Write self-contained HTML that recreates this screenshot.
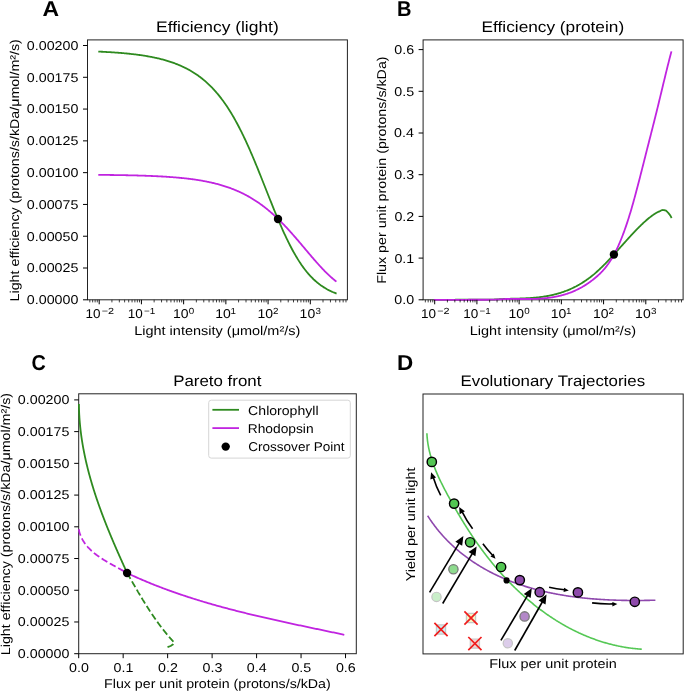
<!DOCTYPE html>
<html><head><meta charset="utf-8"><title>Figure</title>
<style>html,body{margin:0;padding:0;background:#fff;width:685px;height:693px;overflow:hidden}
body{position:relative;font-family:"Liberation Sans", sans-serif}</style></head>
<body>
<svg width="685" height="693" viewBox="0 0 685 693" style="position:absolute;left:0;top:0;will-change:transform">
<rect width="685" height="693" fill="#fff"/>
<g font-family='"Liberation Sans", sans-serif' fill="#000" text-rendering="geometricPrecision">
<rect x="87.5" y="39.9" width="259.9" height="259.9" fill="none" stroke="#222" stroke-width="1" stroke-linejoin="miter"/>
<g clip-path="url(#clipA)">
<path d="M99.2,51.62 L99.99,51.66 L100.78,51.69 L101.57,51.73 L102.36,51.77 L103.16,51.81 L103.95,51.85 L104.74,51.89 L105.53,51.94 L106.32,51.98 L107.11,52.03 L107.9,52.07 L108.69,52.12 L109.48,52.16 L110.27,52.21 L111.07,52.26 L111.86,52.31 L112.65,52.37 L113.44,52.42 L114.23,52.47 L115.02,52.53 L115.81,52.58 L116.6,52.64 L117.39,52.7 L118.18,52.76 L118.98,52.82 L119.77,52.89 L120.56,52.95 L121.35,53.02 L122.14,53.08 L122.93,53.15 L123.72,53.22 L124.51,53.29 L125.3,53.37 L126.1,53.44 L126.89,53.52 L127.68,53.6 L128.47,53.68 L129.26,53.76 L130.05,53.84 L130.84,53.93 L131.63,54.02 L132.42,54.11 L133.21,54.2 L134.01,54.29 L134.8,54.39 L135.59,54.48 L136.38,54.58 L137.17,54.69 L137.96,54.79 L138.75,54.9 L139.54,55.01 L140.33,55.12 L141.12,55.23 L141.92,55.35 L142.71,55.47 L143.5,55.59 L144.29,55.71 L145.08,55.84 L145.87,55.97 L146.66,56.1 L147.45,56.24 L148.24,56.38 L149.04,56.52 L149.83,56.66 L150.62,56.81 L151.41,56.96 L152.2,57.12 L152.99,57.28 L153.78,57.44 L154.57,57.6 L155.36,57.77 L156.15,57.95 L156.95,58.12 L157.74,58.3 L158.53,58.49 L159.32,58.68 L160.11,58.87 L160.9,59.07 L161.69,59.27 L162.48,59.48 L163.27,59.69 L164.06,59.91 L164.86,60.13 L165.65,60.35 L166.44,60.58 L167.23,60.82 L168.02,61.06 L168.81,61.31 L169.6,61.56 L170.39,61.82 L171.18,62.08 L171.98,62.35 L172.77,62.62 L173.56,62.91 L174.35,63.19 L175.14,63.49 L175.93,63.79 L176.72,64.1 L177.51,64.41 L178.3,64.73 L179.09,65.06 L179.89,65.4 L180.68,65.74 L181.47,66.09 L182.26,66.45 L183.05,66.82 L183.84,67.2 L184.63,67.58 L185.42,67.97 L186.21,68.37 L187,68.78 L187.8,69.2 L188.59,69.63 L189.38,70.07 L190.17,70.52 L190.96,70.98 L191.75,71.45 L192.54,71.92 L193.33,72.41 L194.12,72.91 L194.92,73.43 L195.71,73.95 L196.5,74.48 L197.29,75.03 L198.08,75.59 L198.87,76.16 L199.66,76.74 L200.45,77.33 L201.24,77.94 L202.03,78.56 L202.83,79.2 L203.62,79.85 L204.41,80.51 L205.2,81.19 L205.99,81.88 L206.78,82.58 L207.57,83.31 L208.36,84.04 L209.15,84.8 L209.94,85.56 L210.74,86.35 L211.53,87.15 L212.32,87.97 L213.11,88.8 L213.9,89.66 L214.69,90.53 L215.48,91.41 L216.27,92.32 L217.06,93.24 L217.86,94.19 L218.65,95.15 L219.44,96.13 L220.23,97.13 L221.02,98.15 L221.81,99.19 L222.6,100.25 L223.39,101.33 L224.18,102.44 L224.97,103.56 L225.77,104.7 L226.56,105.87 L227.35,107.05 L228.14,108.26 L228.93,109.49 L229.72,110.74 L230.51,112.02 L231.3,113.31 L232.09,114.63 L232.88,115.97 L233.68,117.33 L234.47,118.72 L235.26,120.12 L236.05,121.56 L236.84,123.01 L237.63,124.48 L238.42,125.98 L239.21,127.5 L240,129.04 L240.79,130.61 L241.59,132.19 L242.38,133.8 L243.17,135.43 L243.96,137.08 L244.75,138.75 L245.54,140.44 L246.33,142.15 L247.12,143.88 L247.91,145.63 L248.71,147.4 L249.5,149.19 L250.29,150.99 L251.08,152.81 L251.87,154.65 L252.66,156.51 L253.45,158.38 L254.24,160.26 L255.03,162.16 L255.82,164.07 L256.62,166 L257.41,167.93 L258.2,169.88 L258.99,171.84 L259.78,173.8 L260.57,175.78 L261.36,177.76 L262.15,179.74 L262.94,181.73 L263.73,183.73 L264.53,185.73 L265.32,187.73 L266.11,189.73 L266.9,191.73 L267.69,193.73 L268.48,195.72 L269.27,197.72 L270.06,199.71 L270.85,201.69 L271.65,203.67 L272.44,205.63 L273.23,207.59 L274.02,209.54 L274.81,211.48 L275.6,213.41 L276.39,215.32 L277.18,217.22 L277.97,219.1 L278.76,220.97 L279.56,222.82 L280.35,224.65 L281.14,226.47 L281.93,228.26 L282.72,230.03 L283.51,231.79 L284.3,233.52 L285.09,235.23 L285.88,236.91 L286.67,238.57 L287.47,240.21 L288.26,241.82 L289.05,243.41 L289.84,244.97 L290.63,246.51 L291.42,248.02 L292.21,249.5 L293,250.96 L293.79,252.38 L294.59,253.78 L295.38,255.16 L296.17,256.5 L296.96,257.82 L297.75,259.11 L298.54,260.37 L299.33,261.61 L300.12,262.81 L300.91,263.99 L301.7,265.14 L302.5,266.27 L303.29,267.36 L304.08,268.43 L304.87,269.47 L305.66,270.49 L306.45,271.48 L307.24,272.45 L308.03,273.38 L308.82,274.3 L309.61,275.19 L310.41,276.05 L311.2,276.89 L311.99,277.7 L312.78,278.5 L313.57,279.27 L314.36,280.01 L315.15,280.74 L315.94,281.44 L316.73,282.12 L317.53,282.78 L318.32,283.42 L319.11,284.04 L319.9,284.64 L320.69,285.23 L321.48,285.79 L322.27,286.33 L323.06,286.86 L323.85,287.37 L324.64,287.86 L325.44,288.34 L326.23,288.8 L327.02,289.25 L327.81,289.67 L328.6,290.09 L329.39,290.49 L330.18,290.88 L330.97,291.25 L331.76,291.61 L332.55,291.96 L333.35,292.29 L334.14,292.61 L334.93,292.92 L335.72,293.22" fill="none" stroke="#2e8a1f" stroke-width="1.8" stroke-linejoin="round" stroke-linecap="square"/>
<path d="M99.2,174.86 L99.99,174.87 L100.78,174.88 L101.57,174.88 L102.36,174.89 L103.16,174.9 L103.95,174.91 L104.74,174.92 L105.53,174.92 L106.32,174.93 L107.11,174.94 L107.9,174.95 L108.69,174.96 L109.48,174.97 L110.27,174.98 L111.07,174.99 L111.86,175 L112.65,175.01 L113.44,175.02 L114.23,175.03 L115.02,175.04 L115.81,175.06 L116.6,175.07 L117.39,175.08 L118.18,175.09 L118.98,175.1 L119.77,175.12 L120.56,175.13 L121.35,175.14 L122.14,175.16 L122.93,175.17 L123.72,175.19 L124.51,175.2 L125.3,175.22 L126.1,175.23 L126.89,175.25 L127.68,175.26 L128.47,175.28 L129.26,175.3 L130.05,175.32 L130.84,175.33 L131.63,175.35 L132.42,175.37 L133.21,175.39 L134.01,175.41 L134.8,175.43 L135.59,175.45 L136.38,175.47 L137.17,175.49 L137.96,175.51 L138.75,175.54 L139.54,175.56 L140.33,175.58 L141.12,175.61 L141.92,175.63 L142.71,175.66 L143.5,175.68 L144.29,175.71 L145.08,175.74 L145.87,175.77 L146.66,175.79 L147.45,175.82 L148.24,175.85 L149.04,175.88 L149.83,175.91 L150.62,175.95 L151.41,175.98 L152.2,176.01 L152.99,176.05 L153.78,176.08 L154.57,176.12 L155.36,176.15 L156.15,176.19 L156.95,176.23 L157.74,176.27 L158.53,176.31 L159.32,176.35 L160.11,176.39 L160.9,176.44 L161.69,176.48 L162.48,176.52 L163.27,176.57 L164.06,176.62 L164.86,176.67 L165.65,176.72 L166.44,176.77 L167.23,176.82 L168.02,176.87 L168.81,176.92 L169.6,176.98 L170.39,177.04 L171.18,177.09 L171.98,177.15 L172.77,177.21 L173.56,177.28 L174.35,177.34 L175.14,177.4 L175.93,177.47 L176.72,177.54 L177.51,177.61 L178.3,177.68 L179.09,177.75 L179.89,177.82 L180.68,177.9 L181.47,177.98 L182.26,178.06 L183.05,178.14 L183.84,178.22 L184.63,178.31 L185.42,178.39 L186.21,178.48 L187,178.57 L187.8,178.66 L188.59,178.76 L189.38,178.86 L190.17,178.95 L190.96,179.06 L191.75,179.16 L192.54,179.26 L193.33,179.37 L194.12,179.48 L194.92,179.6 L195.71,179.71 L196.5,179.83 L197.29,179.95 L198.08,180.07 L198.87,180.2 L199.66,180.33 L200.45,180.46 L201.24,180.59 L202.03,180.73 L202.83,180.87 L203.62,181.02 L204.41,181.16 L205.2,181.31 L205.99,181.46 L206.78,181.62 L207.57,181.78 L208.36,181.94 L209.15,182.11 L209.94,182.28 L210.74,182.45 L211.53,182.63 L212.32,182.81 L213.11,183 L213.9,183.19 L214.69,183.38 L215.48,183.58 L216.27,183.78 L217.06,183.98 L217.86,184.19 L218.65,184.41 L219.44,184.63 L220.23,184.85 L221.02,185.08 L221.81,185.31 L222.6,185.54 L223.39,185.79 L224.18,186.03 L224.97,186.28 L225.77,186.54 L226.56,186.8 L227.35,187.07 L228.14,187.34 L228.93,187.62 L229.72,187.9 L230.51,188.19 L231.3,188.49 L232.09,188.79 L232.88,189.1 L233.68,189.41 L234.47,189.73 L235.26,190.05 L236.05,190.38 L236.84,190.72 L237.63,191.06 L238.42,191.41 L239.21,191.77 L240,192.13 L240.79,192.5 L241.59,192.88 L242.38,193.26 L243.17,193.65 L243.96,194.05 L244.75,194.46 L245.54,194.87 L246.33,195.29 L247.12,195.71 L247.91,196.15 L248.71,196.59 L249.5,197.04 L250.29,197.5 L251.08,197.96 L251.87,198.44 L252.66,198.92 L253.45,199.41 L254.24,199.91 L255.03,200.41 L255.82,200.93 L256.62,201.45 L257.41,201.98 L258.2,202.52 L258.99,203.07 L259.78,203.62 L260.57,204.19 L261.36,204.76 L262.15,205.34 L262.94,205.93 L263.73,206.53 L264.53,207.14 L265.32,207.76 L266.11,208.39 L266.9,209.02 L267.69,209.67 L268.48,210.32 L269.27,210.98 L270.06,211.65 L270.85,212.33 L271.65,213.02 L272.44,213.72 L273.23,214.43 L274.02,215.14 L274.81,215.87 L275.6,216.6 L276.39,217.34 L277.18,218.09 L277.97,218.85 L278.76,219.62 L279.56,220.39 L280.35,221.18 L281.14,221.97 L281.93,222.77 L282.72,223.58 L283.51,224.39 L284.3,225.22 L285.09,226.05 L285.88,226.88 L286.67,227.73 L287.47,228.58 L288.26,229.44 L289.05,230.31 L289.84,231.18 L290.63,232.06 L291.42,232.95 L292.21,233.84 L293,234.73 L293.79,235.63 L294.59,236.54 L295.38,237.45 L296.17,238.37 L296.96,239.29 L297.75,240.21 L298.54,241.13 L299.33,242.06 L300.12,243 L300.91,243.93 L301.7,244.87 L302.5,245.81 L303.29,246.75 L304.08,247.69 L304.87,248.63 L305.66,249.57 L306.45,250.51 L307.24,251.45 L308.03,252.39 L308.82,253.32 L309.61,254.26 L310.41,255.19 L311.2,256.12 L311.99,257.04 L312.78,257.96 L313.57,258.88 L314.36,259.79 L315.15,260.7 L315.94,261.6 L316.73,262.5 L317.53,263.38 L318.32,264.27 L319.11,265.14 L319.9,266.01 L320.69,266.86 L321.48,267.71 L322.27,268.55 L323.06,269.38 L323.85,270.2 L324.64,271.01 L325.44,271.81 L326.23,272.6 L327.02,273.37 L327.81,274.14 L328.6,274.89 L329.39,275.63 L330.18,276.36 L330.97,277.08 L331.76,277.78 L332.55,278.47 L333.35,279.15 L334.14,279.81 L334.93,280.46 L335.72,281.1" fill="none" stroke="#c024e0" stroke-width="1.8" stroke-linejoin="round" stroke-linecap="square"/>
</g>
<circle cx="278.0" cy="219.0" r="4.2" fill="#000"/>
<line x1="83" y1="299.8" x2="87.5" y2="299.8" stroke="#000" stroke-width="1"/>
<text x="26.83" y="304.2" font-size="12.8" font-weight="normal" textLength="51.59" lengthAdjust="spacingAndGlyphs" fill="#000" >0.00000</text>
<line x1="83" y1="268.01" x2="87.5" y2="268.01" stroke="#000" stroke-width="1"/>
<text x="26.83" y="272.41" font-size="12.8" font-weight="normal" textLength="51.59" lengthAdjust="spacingAndGlyphs" fill="#000" >0.00025</text>
<line x1="83" y1="236.23" x2="87.5" y2="236.23" stroke="#000" stroke-width="1"/>
<text x="26.83" y="240.63" font-size="12.8" font-weight="normal" textLength="51.59" lengthAdjust="spacingAndGlyphs" fill="#000" >0.00050</text>
<line x1="83" y1="204.44" x2="87.5" y2="204.44" stroke="#000" stroke-width="1"/>
<text x="26.83" y="208.84" font-size="12.8" font-weight="normal" textLength="51.59" lengthAdjust="spacingAndGlyphs" fill="#000" >0.00075</text>
<line x1="83" y1="172.65" x2="87.5" y2="172.65" stroke="#000" stroke-width="1"/>
<text x="26.83" y="177.05" font-size="12.8" font-weight="normal" textLength="51.59" lengthAdjust="spacingAndGlyphs" fill="#000" >0.00100</text>
<line x1="83" y1="140.86" x2="87.5" y2="140.86" stroke="#000" stroke-width="1"/>
<text x="26.83" y="145.26" font-size="12.8" font-weight="normal" textLength="51.59" lengthAdjust="spacingAndGlyphs" fill="#000" >0.00125</text>
<line x1="83" y1="109.07" x2="87.5" y2="109.07" stroke="#000" stroke-width="1"/>
<text x="26.83" y="113.47" font-size="12.8" font-weight="normal" textLength="51.59" lengthAdjust="spacingAndGlyphs" fill="#000" >0.00150</text>
<line x1="83" y1="77.29" x2="87.5" y2="77.29" stroke="#000" stroke-width="1"/>
<text x="26.83" y="81.69" font-size="12.8" font-weight="normal" textLength="51.59" lengthAdjust="spacingAndGlyphs" fill="#000" >0.00175</text>
<line x1="83" y1="45.5" x2="87.5" y2="45.5" stroke="#000" stroke-width="1"/>
<text x="26.83" y="49.9" font-size="12.8" font-weight="normal" textLength="51.59" lengthAdjust="spacingAndGlyphs" fill="#000" >0.00200</text>
<line x1="99.2" y1="299.8" x2="99.2" y2="304.3" stroke="#000" stroke-width="1"/>
<line x1="141.42" y1="299.8" x2="141.42" y2="304.3" stroke="#000" stroke-width="1"/>
<line x1="183.64" y1="299.8" x2="183.64" y2="304.3" stroke="#000" stroke-width="1"/>
<line x1="225.86" y1="299.8" x2="225.86" y2="304.3" stroke="#000" stroke-width="1"/>
<line x1="268.08" y1="299.8" x2="268.08" y2="304.3" stroke="#000" stroke-width="1"/>
<line x1="310.3" y1="299.8" x2="310.3" y2="304.3" stroke="#000" stroke-width="1"/>
<line x1="89.83" y1="299.8" x2="89.83" y2="302.4" stroke="#000" stroke-width="0.75"/>
<line x1="92.66" y1="299.8" x2="92.66" y2="302.4" stroke="#000" stroke-width="0.75"/>
<line x1="95.11" y1="299.8" x2="95.11" y2="302.4" stroke="#000" stroke-width="0.75"/>
<line x1="97.27" y1="299.8" x2="97.27" y2="302.4" stroke="#000" stroke-width="0.75"/>
<line x1="111.91" y1="299.8" x2="111.91" y2="302.4" stroke="#000" stroke-width="0.75"/>
<line x1="119.34" y1="299.8" x2="119.34" y2="302.4" stroke="#000" stroke-width="0.75"/>
<line x1="124.62" y1="299.8" x2="124.62" y2="302.4" stroke="#000" stroke-width="0.75"/>
<line x1="128.71" y1="299.8" x2="128.71" y2="302.4" stroke="#000" stroke-width="0.75"/>
<line x1="132.05" y1="299.8" x2="132.05" y2="302.4" stroke="#000" stroke-width="0.75"/>
<line x1="134.88" y1="299.8" x2="134.88" y2="302.4" stroke="#000" stroke-width="0.75"/>
<line x1="137.33" y1="299.8" x2="137.33" y2="302.4" stroke="#000" stroke-width="0.75"/>
<line x1="139.49" y1="299.8" x2="139.49" y2="302.4" stroke="#000" stroke-width="0.75"/>
<line x1="154.13" y1="299.8" x2="154.13" y2="302.4" stroke="#000" stroke-width="0.75"/>
<line x1="161.56" y1="299.8" x2="161.56" y2="302.4" stroke="#000" stroke-width="0.75"/>
<line x1="166.84" y1="299.8" x2="166.84" y2="302.4" stroke="#000" stroke-width="0.75"/>
<line x1="170.93" y1="299.8" x2="170.93" y2="302.4" stroke="#000" stroke-width="0.75"/>
<line x1="174.27" y1="299.8" x2="174.27" y2="302.4" stroke="#000" stroke-width="0.75"/>
<line x1="177.1" y1="299.8" x2="177.1" y2="302.4" stroke="#000" stroke-width="0.75"/>
<line x1="179.55" y1="299.8" x2="179.55" y2="302.4" stroke="#000" stroke-width="0.75"/>
<line x1="181.71" y1="299.8" x2="181.71" y2="302.4" stroke="#000" stroke-width="0.75"/>
<line x1="196.35" y1="299.8" x2="196.35" y2="302.4" stroke="#000" stroke-width="0.75"/>
<line x1="203.78" y1="299.8" x2="203.78" y2="302.4" stroke="#000" stroke-width="0.75"/>
<line x1="209.06" y1="299.8" x2="209.06" y2="302.4" stroke="#000" stroke-width="0.75"/>
<line x1="213.15" y1="299.8" x2="213.15" y2="302.4" stroke="#000" stroke-width="0.75"/>
<line x1="216.49" y1="299.8" x2="216.49" y2="302.4" stroke="#000" stroke-width="0.75"/>
<line x1="219.32" y1="299.8" x2="219.32" y2="302.4" stroke="#000" stroke-width="0.75"/>
<line x1="221.77" y1="299.8" x2="221.77" y2="302.4" stroke="#000" stroke-width="0.75"/>
<line x1="223.93" y1="299.8" x2="223.93" y2="302.4" stroke="#000" stroke-width="0.75"/>
<line x1="238.57" y1="299.8" x2="238.57" y2="302.4" stroke="#000" stroke-width="0.75"/>
<line x1="246" y1="299.8" x2="246" y2="302.4" stroke="#000" stroke-width="0.75"/>
<line x1="251.28" y1="299.8" x2="251.28" y2="302.4" stroke="#000" stroke-width="0.75"/>
<line x1="255.37" y1="299.8" x2="255.37" y2="302.4" stroke="#000" stroke-width="0.75"/>
<line x1="258.71" y1="299.8" x2="258.71" y2="302.4" stroke="#000" stroke-width="0.75"/>
<line x1="261.54" y1="299.8" x2="261.54" y2="302.4" stroke="#000" stroke-width="0.75"/>
<line x1="263.99" y1="299.8" x2="263.99" y2="302.4" stroke="#000" stroke-width="0.75"/>
<line x1="266.15" y1="299.8" x2="266.15" y2="302.4" stroke="#000" stroke-width="0.75"/>
<line x1="280.79" y1="299.8" x2="280.79" y2="302.4" stroke="#000" stroke-width="0.75"/>
<line x1="288.22" y1="299.8" x2="288.22" y2="302.4" stroke="#000" stroke-width="0.75"/>
<line x1="293.5" y1="299.8" x2="293.5" y2="302.4" stroke="#000" stroke-width="0.75"/>
<line x1="297.59" y1="299.8" x2="297.59" y2="302.4" stroke="#000" stroke-width="0.75"/>
<line x1="300.93" y1="299.8" x2="300.93" y2="302.4" stroke="#000" stroke-width="0.75"/>
<line x1="303.76" y1="299.8" x2="303.76" y2="302.4" stroke="#000" stroke-width="0.75"/>
<line x1="306.21" y1="299.8" x2="306.21" y2="302.4" stroke="#000" stroke-width="0.75"/>
<line x1="308.37" y1="299.8" x2="308.37" y2="302.4" stroke="#000" stroke-width="0.75"/>
<line x1="323.01" y1="299.8" x2="323.01" y2="302.4" stroke="#000" stroke-width="0.75"/>
<line x1="330.44" y1="299.8" x2="330.44" y2="302.4" stroke="#000" stroke-width="0.75"/>
<line x1="335.72" y1="299.8" x2="335.72" y2="302.4" stroke="#000" stroke-width="0.75"/>
<line x1="339.81" y1="299.8" x2="339.81" y2="302.4" stroke="#000" stroke-width="0.75"/>
<line x1="343.15" y1="299.8" x2="343.15" y2="302.4" stroke="#000" stroke-width="0.75"/>
<line x1="345.98" y1="299.8" x2="345.98" y2="302.4" stroke="#000" stroke-width="0.75"/>
<text x="85.5" y="317.9" font-size="12.8" font-weight="normal" textLength="15.02" lengthAdjust="spacingAndGlyphs" fill="#000" >10</text>
<text x="101.71" y="313.7" font-size="8.9" font-weight="normal" textLength="12.33" lengthAdjust="spacingAndGlyphs" fill="#000" >−2</text>
<text x="127.72" y="317.9" font-size="12.8" font-weight="normal" textLength="15.02" lengthAdjust="spacingAndGlyphs" fill="#000" >10</text>
<text x="143.98" y="313.7" font-size="8.9" font-weight="normal" textLength="11.24" lengthAdjust="spacingAndGlyphs" fill="#000" >−1</text>
<text x="172.96" y="317.9" font-size="12.8" font-weight="normal" textLength="15.57" lengthAdjust="spacingAndGlyphs" fill="#000" >10</text>
<text x="188.81" y="313.7" font-size="8.9" font-weight="normal" textLength="5.44" lengthAdjust="spacingAndGlyphs" fill="#000" >0</text>
<text x="215.18" y="317.9" font-size="12.8" font-weight="normal" textLength="15.57" lengthAdjust="spacingAndGlyphs" fill="#000" >10</text>
<text x="230.59" y="313.7" font-size="8.9" font-weight="normal" textLength="5.45" lengthAdjust="spacingAndGlyphs" fill="#000" >1</text>
<text x="257.4" y="317.9" font-size="12.8" font-weight="normal" textLength="15.57" lengthAdjust="spacingAndGlyphs" fill="#000" >10</text>
<text x="273.14" y="313.7" font-size="8.9" font-weight="normal" textLength="5.44" lengthAdjust="spacingAndGlyphs" fill="#000" >2</text>
<text x="299.62" y="317.9" font-size="12.8" font-weight="normal" textLength="15.57" lengthAdjust="spacingAndGlyphs" fill="#000" >10</text>
<text x="315.47" y="313.7" font-size="8.9" font-weight="normal" textLength="5.45" lengthAdjust="spacingAndGlyphs" fill="#000" >3</text>
<text x="42.47" y="15.9" font-size="21.5" font-weight="bold" textLength="16.6" lengthAdjust="spacingAndGlyphs" fill="#000" >A</text>
<text x="156.13" y="31.9" font-size="15.3" font-weight="normal" textLength="122.6" lengthAdjust="spacingAndGlyphs" fill="#000" >Efficiency (light)</text>
<text x="134.17" y="335.1" font-size="12.8" font-weight="normal" textLength="166.22" lengthAdjust="spacingAndGlyphs" fill="#000" >Light intensity (μmol/m²/s)</text>
<text transform="rotate(-90)" x="-301.41" y="18.7" font-size="12.8" textLength="262.28" lengthAdjust="spacingAndGlyphs">Light efficiency (protons/s/kDa/μmol/m²/s)</text>
<rect x="423.1" y="39.9" width="260" height="259.9" fill="none" stroke="#222" stroke-width="1" stroke-linejoin="miter"/>
<path d="M434.7,299.79 L435.29,299.79 L435.89,299.79 L436.48,299.79 L437.07,299.79 L437.66,299.79 L438.26,299.79 L438.85,299.79 L439.44,299.79 L440.04,299.79 L440.63,299.79 L441.22,299.79 L441.81,299.79 L442.41,299.79 L443,299.79 L443.59,299.79 L444.18,299.79 L444.78,299.79 L445.37,299.79 L445.96,299.78 L446.56,299.78 L447.15,299.78 L447.74,299.78 L448.33,299.78 L448.93,299.78 L449.52,299.78 L450.11,299.78 L450.71,299.78 L451.3,299.78 L451.89,299.78 L452.48,299.78 L453.08,299.78 L453.67,299.78 L454.26,299.78 L454.85,299.78 L455.45,299.77 L456.04,299.77 L456.63,299.77 L457.23,299.77 L457.82,299.77 L458.41,299.77 L459,299.77 L459.6,299.77 L460.19,299.77 L460.78,299.77 L461.38,299.77 L461.97,299.76 L462.56,299.76 L463.15,299.76 L463.75,299.76 L464.34,299.76 L464.93,299.76 L465.52,299.76 L466.12,299.76 L466.71,299.75 L467.3,299.75 L467.9,299.75 L468.49,299.75 L469.08,299.75 L469.67,299.75 L470.27,299.74 L470.86,299.74 L471.45,299.74 L472.05,299.74 L472.64,299.74 L473.23,299.73 L473.82,299.73 L474.42,299.73 L475.01,299.73 L475.6,299.73 L476.19,299.72 L476.79,299.72 L477.38,299.72 L477.97,299.72 L478.57,299.71 L479.16,299.71 L479.75,299.71 L480.34,299.7 L480.94,299.7 L481.53,299.7 L482.12,299.69 L482.72,299.69 L483.31,299.69 L483.9,299.68 L484.49,299.68 L485.09,299.68 L485.68,299.67 L486.27,299.67 L486.86,299.66 L487.46,299.66 L488.05,299.65 L488.64,299.65 L489.24,299.64 L489.83,299.64 L490.42,299.63 L491.01,299.62 L491.61,299.61 L492.2,299.59 L492.79,299.57 L493.39,299.55 L493.98,299.53 L494.57,299.5 L495.16,299.47 L495.76,299.45 L496.35,299.42 L496.94,299.38 L497.53,299.35 L498.13,299.32 L498.72,299.28 L499.31,299.25 L499.91,299.21 L500.5,299.18 L501.09,299.14 L501.68,299.1 L502.28,299.07 L502.87,299.03 L503.46,298.99 L504.06,298.96 L504.65,298.92 L505.24,298.89 L505.83,298.87 L506.43,298.86 L507.02,298.85 L507.61,298.83 L508.2,298.82 L508.8,298.8 L509.39,298.79 L509.98,298.78 L510.58,298.76 L511.17,298.75 L511.76,298.74 L512.35,298.72 L512.95,298.71 L513.54,298.69 L514.13,298.68 L514.73,298.67 L515.32,298.65 L515.91,298.64 L516.5,298.62 L517.1,298.6 L517.69,298.59 L518.28,298.57 L518.87,298.55 L519.47,298.53 L520.06,298.51 L520.65,298.49 L521.25,298.47 L521.84,298.45 L522.43,298.43 L523.02,298.41 L523.62,298.38 L524.21,298.36 L524.8,298.33 L525.4,298.3 L525.99,298.27 L526.58,298.24 L527.17,298.21 L527.77,298.18 L528.36,298.14 L528.95,298.11 L529.54,298.07 L530.14,298.03 L530.73,297.99 L531.32,297.95 L531.92,297.9 L532.51,297.86 L533.1,297.81 L533.69,297.76 L534.29,297.71 L534.88,297.66 L535.47,297.6 L536.07,297.54 L536.66,297.48 L537.25,297.42 L537.84,297.36 L538.44,297.29 L539.03,297.23 L539.62,297.15 L540.21,297.08 L540.81,297.01 L541.4,296.93 L541.99,296.85 L542.59,296.77 L543.18,296.68 L543.77,296.59 L544.36,296.5 L544.96,296.41 L545.55,296.31 L546.14,296.21 L546.74,296.11 L547.33,296 L547.92,295.89 L548.51,295.78 L549.11,295.67 L549.7,295.55 L550.29,295.43 L550.88,295.31 L551.48,295.18 L552.07,295.05 L552.66,294.91 L553.26,294.77 L553.85,294.63 L554.44,294.49 L555.03,294.34 L555.63,294.19 L556.22,294.03 L556.81,293.87 L557.41,293.71 L558,293.54 L558.59,293.37 L559.18,293.19 L559.78,293.02 L560.37,292.83 L560.96,292.65 L561.55,292.45 L562.15,292.26 L562.74,292.06 L563.33,291.85 L563.93,291.65 L564.52,291.43 L565.11,291.21 L565.7,290.99 L566.3,290.77 L566.89,290.54 L567.48,290.3 L568.08,290.06 L568.67,289.81 L569.26,289.56 L569.85,289.31 L570.45,289.05 L571.04,288.79 L571.63,288.52 L572.22,288.24 L572.82,287.96 L573.41,287.68 L574,287.39 L574.6,287.09 L575.19,286.79 L575.78,286.49 L576.37,286.17 L576.97,285.86 L577.56,285.54 L578.15,285.21 L578.75,284.87 L579.34,284.54 L579.93,284.19 L580.52,283.84 L581.12,283.49 L581.71,283.12 L582.3,282.76 L582.89,282.38 L583.49,282 L584.08,281.62 L584.67,281.23 L585.27,280.83 L585.86,280.42 L586.45,280.01 L587.04,279.6 L587.64,279.18 L588.23,278.75 L588.82,278.31 L589.42,277.87 L590.01,277.42 L590.6,276.97 L591.19,276.5 L591.79,276.04 L592.38,275.56 L592.97,275.08 L593.56,274.59 L594.16,274.1 L594.75,273.59 L595.34,273.08 L595.94,272.57 L596.53,272.05 L597.12,271.52 L597.71,270.98 L598.31,270.44 L598.9,269.89 L599.49,269.34 L600.09,268.78 L600.68,268.21 L601.27,267.64 L601.86,267.07 L602.46,266.49 L603.05,265.9 L603.64,265.31 L604.23,264.71 L604.83,264.11 L605.42,263.51 L606.01,262.9 L606.61,262.29 L607.2,261.67 L607.79,261.05 L608.38,260.43 L608.98,259.8 L609.57,259.17 L610.16,258.53 L610.76,257.9 L611.35,257.26 L611.94,256.62 L612.53,255.97 L613.13,255.32 L613.72,254.67 L614.31,254.02 L614.9,253.37 L615.5,252.72 L616.09,252.06 L616.68,251.4 L617.28,250.74 L617.87,250.08 L618.46,249.42 L619.05,248.76 L619.65,248.1 L620.24,247.44 L620.83,246.77 L621.43,246.11 L622.02,245.45 L622.61,244.79 L623.2,244.12 L623.8,243.46 L624.39,242.8 L624.98,242.14 L625.57,241.48 L626.17,240.82 L626.76,240.17 L627.35,239.51 L627.95,238.86 L628.54,238.21 L629.13,237.56 L629.72,236.91 L630.32,236.26 L630.91,235.62 L631.5,234.98 L632.1,234.34 L632.69,233.7 L633.28,233.07 L633.87,232.44 L634.47,231.82 L635.06,231.2 L635.65,230.58 L636.24,229.96 L636.84,229.35 L637.43,228.74 L638.02,228.14 L638.62,227.54 L639.21,226.95 L639.8,226.36 L640.39,225.78 L640.99,225.2 L641.58,224.63 L642.17,224.06 L642.77,223.5 L643.36,222.95 L643.95,222.4 L644.54,221.86 L645.14,221.33 L645.73,220.8 L646.32,220.28 L646.92,219.77 L647.51,219.27 L648.1,218.77 L648.69,218.28 L649.29,217.81 L649.88,217.34 L650.47,216.88 L651.06,216.43 L651.66,215.99 L652.25,215.56 L652.84,215.14 L653.44,214.73 L654.03,214.33 L654.62,213.94 L655.21,213.57 L655.81,213.2 L656.4,212.85 L656.99,212.51 L657.59,212.18 L658.18,211.86 L658.77,211.56 L659.36,211.51 L659.96,211.17 L660.55,210.82 L661.14,210.49 L661.73,210.22 L662.33,210.05 L662.92,210 L663.51,210.04 L664.11,210.13 L664.7,210.25 L665.29,210.41 L665.88,210.62 L666.48,211.02 L667.07,211.6 L667.66,212.26 L668.26,212.94 L668.85,213.6 L669.44,214.33 L670.03,215.15 L670.63,216.1 L671.22,217.22" fill="none" stroke="#2e8a1f" stroke-width="1.8" stroke-linejoin="round" stroke-linecap="square"/>
<path d="M434.7,299.8 L435.29,299.8 L435.89,299.8 L436.48,299.8 L437.07,299.8 L437.66,299.8 L438.26,299.8 L438.85,299.79 L439.44,299.79 L440.04,299.79 L440.63,299.79 L441.22,299.79 L441.81,299.79 L442.41,299.79 L443,299.79 L443.59,299.79 L444.18,299.79 L444.78,299.79 L445.37,299.79 L445.96,299.79 L446.56,299.79 L447.15,299.79 L447.74,299.79 L448.33,299.79 L448.93,299.79 L449.52,299.79 L450.11,299.79 L450.71,299.79 L451.3,299.79 L451.89,299.79 L452.48,299.79 L453.08,299.79 L453.67,299.79 L454.26,299.79 L454.85,299.79 L455.45,299.79 L456.04,299.79 L456.63,299.79 L457.23,299.79 L457.82,299.79 L458.41,299.79 L459,299.78 L459.6,299.78 L460.19,299.78 L460.78,299.78 L461.38,299.78 L461.97,299.78 L462.56,299.78 L463.15,299.78 L463.75,299.78 L464.34,299.78 L464.93,299.78 L465.52,299.78 L466.12,299.78 L466.71,299.78 L467.3,299.78 L467.9,299.78 L468.49,299.77 L469.08,299.77 L469.67,299.77 L470.27,299.77 L470.86,299.77 L471.45,299.77 L472.05,299.77 L472.64,299.77 L473.23,299.77 L473.82,299.77 L474.42,299.76 L475.01,299.76 L475.6,299.76 L476.19,299.76 L476.79,299.76 L477.38,299.76 L477.97,299.76 L478.57,299.76 L479.16,299.75 L479.75,299.75 L480.34,299.75 L480.94,299.75 L481.53,299.75 L482.12,299.75 L482.72,299.74 L483.31,299.74 L483.9,299.74 L484.49,299.74 L485.09,299.74 L485.68,299.73 L486.27,299.73 L486.86,299.73 L487.46,299.73 L488.05,299.73 L488.64,299.72 L489.24,299.72 L489.83,299.72 L490.42,299.72 L491.01,299.72 L491.61,299.71 L492.2,299.7 L492.79,299.69 L493.39,299.67 L493.98,299.65 L494.57,299.63 L495.16,299.6 L495.76,299.57 L496.35,299.54 L496.94,299.51 L497.53,299.48 L498.13,299.45 L498.72,299.41 L499.31,299.38 L499.91,299.34 L500.5,299.3 L501.09,299.27 L501.68,299.23 L502.28,299.19 L502.87,299.16 L503.46,299.12 L504.06,299.08 L504.65,299.05 L505.24,299.02 L505.83,299.01 L506.43,299.01 L507.02,299 L507.61,298.99 L508.2,298.99 L508.8,298.98 L509.39,298.98 L509.98,298.98 L510.58,298.98 L511.17,298.97 L511.76,298.97 L512.35,298.97 L512.95,298.98 L513.54,298.98 L514.13,298.98 L514.73,298.98 L515.32,298.98 L515.91,298.99 L516.5,298.99 L517.1,298.99 L517.69,299 L518.28,299 L518.87,299 L519.47,299.01 L520.06,299.01 L520.65,299.01 L521.25,299.02 L521.84,299.02 L522.43,299.02 L523.02,299.02 L523.62,299.02 L524.21,299.02 L524.8,299.02 L525.4,299.02 L525.99,299.02 L526.58,299.02 L527.17,299.02 L527.77,299.01 L528.36,299.01 L528.95,299 L529.54,298.99 L530.14,298.98 L530.73,298.98 L531.32,298.96 L531.92,298.95 L532.51,298.94 L533.1,298.92 L533.69,298.91 L534.29,298.89 L534.88,298.87 L535.47,298.85 L536.07,298.83 L536.66,298.8 L537.25,298.78 L537.84,298.75 L538.44,298.72 L539.03,298.69 L539.62,298.65 L540.21,298.61 L540.81,298.58 L541.4,298.53 L541.99,298.49 L542.59,298.45 L543.18,298.4 L543.77,298.35 L544.36,298.29 L544.96,298.24 L545.55,298.18 L546.14,298.12 L546.74,298.06 L547.33,297.99 L547.92,297.92 L548.51,297.85 L549.11,297.77 L549.7,297.69 L550.29,297.61 L550.88,297.53 L551.48,297.44 L552.07,297.35 L552.66,297.25 L553.26,297.15 L553.85,297.05 L554.44,296.95 L555.03,296.84 L555.63,296.72 L556.22,296.61 L556.81,296.49 L557.41,296.36 L558,296.24 L558.59,296.1 L559.18,295.97 L559.78,295.83 L560.37,295.68 L560.96,295.54 L561.55,295.38 L562.15,295.23 L562.74,295.07 L563.33,294.9 L563.93,294.73 L564.52,294.56 L565.11,294.38 L565.7,294.19 L566.3,294 L566.89,293.81 L567.48,293.61 L568.08,293.41 L568.67,293.2 L569.26,292.99 L569.85,292.77 L570.45,292.55 L571.04,292.32 L571.63,292.08 L572.22,291.85 L572.82,291.6 L573.41,291.35 L574,291.1 L574.6,290.84 L575.19,290.57 L575.78,290.3 L576.37,290.02 L576.97,289.74 L577.56,289.45 L578.15,289.15 L578.75,288.85 L579.34,288.54 L579.93,288.23 L580.52,287.91 L581.12,287.59 L581.71,287.25 L582.3,286.92 L582.89,286.57 L583.49,286.22 L584.08,285.86 L584.67,285.5 L585.27,285.13 L585.86,284.75 L586.45,284.37 L587.04,283.98 L587.64,283.58 L588.23,283.17 L588.82,282.76 L589.42,282.35 L590.01,281.92 L590.6,281.49 L591.19,281.05 L591.79,280.6 L592.38,280.15 L592.97,279.69 L593.56,279.22 L594.16,278.74 L594.75,278.26 L595.34,277.76 L595.94,277.26 L596.53,276.76 L597.12,276.24 L597.71,275.71 L598.31,275.17 L598.9,274.62 L599.49,274.06 L600.09,273.48 L600.68,272.9 L601.27,272.29 L601.86,271.67 L602.46,271.04 L603.05,270.39 L603.64,269.72 L604.23,269.04 L604.83,268.34 L605.42,267.61 L606.01,266.87 L606.61,266.11 L607.2,265.32 L607.79,264.52 L608.38,263.69 L608.98,262.84 L609.57,261.96 L610.16,261.06 L610.76,260.14 L611.35,259.18 L611.94,258.21 L612.53,257.2 L613.13,256.17 L613.72,255.1 L614.31,254.01 L614.9,252.89 L615.5,251.74 L616.09,250.55 L616.68,249.34 L617.28,248.1 L617.87,246.82 L618.46,245.52 L619.05,244.18 L619.65,242.81 L620.24,241.41 L620.83,239.98 L621.43,238.52 L622.02,237.02 L622.61,235.5 L623.2,233.94 L623.8,232.35 L624.39,230.72 L624.98,229.06 L625.57,227.37 L626.17,225.65 L626.76,223.89 L627.35,222.1 L627.95,220.28 L628.54,218.42 L629.13,216.53 L629.72,214.6 L630.32,212.64 L630.91,210.65 L631.5,208.63 L632.1,206.58 L632.69,204.51 L633.28,202.41 L633.87,200.28 L634.47,198.13 L635.06,195.96 L635.65,193.77 L636.24,191.55 L636.84,189.32 L637.43,187.08 L638.02,184.81 L638.62,182.54 L639.21,180.25 L639.8,177.95 L640.39,175.63 L640.99,173.31 L641.58,170.99 L642.17,168.65 L642.77,166.31 L643.36,163.97 L643.95,161.62 L644.54,159.27 L645.14,156.93 L645.73,154.58 L646.32,152.24 L646.92,149.9 L647.51,147.56 L648.1,145.23 L648.69,142.91 L649.29,140.59 L649.88,138.27 L650.47,135.95 L651.06,133.63 L651.66,131.31 L652.25,128.98 L652.84,126.65 L653.44,124.3 L654.03,121.95 L654.62,119.59 L655.21,117.22 L655.81,114.84 L656.4,112.44 L656.99,110.03 L657.59,107.61 L658.18,105.18 L658.77,102.74 L659.36,100.29 L659.96,97.84 L660.55,95.38 L661.14,92.92 L661.73,90.46 L662.33,88 L662.92,85.54 L663.51,83.08 L664.11,80.63 L664.7,78.18 L665.29,75.74 L665.88,73.3 L666.48,70.88 L667.07,68.48 L667.66,66.09 L668.26,63.72 L668.85,61.37 L669.44,59.04 L670.03,56.74 L670.63,54.47 L671.22,52.23" fill="none" stroke="#c024e0" stroke-width="1.8" stroke-linejoin="round" stroke-linecap="square"/>
<circle cx="613.9" cy="254.5" r="4.2" fill="#000"/>
<line x1="418.6" y1="299.8" x2="423.1" y2="299.8" stroke="#000" stroke-width="1"/>
<text x="394.31" y="304.2" font-size="12.8" font-weight="normal" textLength="19.84" lengthAdjust="spacingAndGlyphs" fill="#000" >0.0</text>
<line x1="418.6" y1="258.1" x2="423.1" y2="258.1" stroke="#000" stroke-width="1"/>
<text x="394.42" y="262.5" font-size="12.8" font-weight="normal" textLength="19.84" lengthAdjust="spacingAndGlyphs" fill="#000" >0.1</text>
<line x1="418.6" y1="216.4" x2="423.1" y2="216.4" stroke="#000" stroke-width="1"/>
<text x="394.42" y="220.8" font-size="12.8" font-weight="normal" textLength="19.84" lengthAdjust="spacingAndGlyphs" fill="#000" >0.2</text>
<line x1="418.6" y1="174.7" x2="423.1" y2="174.7" stroke="#000" stroke-width="1"/>
<text x="394.31" y="179.1" font-size="12.8" font-weight="normal" textLength="19.84" lengthAdjust="spacingAndGlyphs" fill="#000" >0.3</text>
<line x1="418.6" y1="133" x2="423.1" y2="133" stroke="#000" stroke-width="1"/>
<text x="394.09" y="137.4" font-size="12.8" font-weight="normal" textLength="19.84" lengthAdjust="spacingAndGlyphs" fill="#000" >0.4</text>
<line x1="418.6" y1="91.3" x2="423.1" y2="91.3" stroke="#000" stroke-width="1"/>
<text x="394.31" y="95.7" font-size="12.8" font-weight="normal" textLength="19.84" lengthAdjust="spacingAndGlyphs" fill="#000" >0.5</text>
<line x1="418.6" y1="49.6" x2="423.1" y2="49.6" stroke="#000" stroke-width="1"/>
<text x="394.31" y="54" font-size="12.8" font-weight="normal" textLength="19.84" lengthAdjust="spacingAndGlyphs" fill="#000" >0.6</text>
<line x1="434.7" y1="299.8" x2="434.7" y2="304.3" stroke="#000" stroke-width="1"/>
<line x1="476.92" y1="299.8" x2="476.92" y2="304.3" stroke="#000" stroke-width="1"/>
<line x1="519.14" y1="299.8" x2="519.14" y2="304.3" stroke="#000" stroke-width="1"/>
<line x1="561.36" y1="299.8" x2="561.36" y2="304.3" stroke="#000" stroke-width="1"/>
<line x1="603.58" y1="299.8" x2="603.58" y2="304.3" stroke="#000" stroke-width="1"/>
<line x1="645.8" y1="299.8" x2="645.8" y2="304.3" stroke="#000" stroke-width="1"/>
<line x1="425.33" y1="299.8" x2="425.33" y2="302.4" stroke="#000" stroke-width="0.75"/>
<line x1="428.16" y1="299.8" x2="428.16" y2="302.4" stroke="#000" stroke-width="0.75"/>
<line x1="430.61" y1="299.8" x2="430.61" y2="302.4" stroke="#000" stroke-width="0.75"/>
<line x1="432.77" y1="299.8" x2="432.77" y2="302.4" stroke="#000" stroke-width="0.75"/>
<line x1="447.41" y1="299.8" x2="447.41" y2="302.4" stroke="#000" stroke-width="0.75"/>
<line x1="454.84" y1="299.8" x2="454.84" y2="302.4" stroke="#000" stroke-width="0.75"/>
<line x1="460.12" y1="299.8" x2="460.12" y2="302.4" stroke="#000" stroke-width="0.75"/>
<line x1="464.21" y1="299.8" x2="464.21" y2="302.4" stroke="#000" stroke-width="0.75"/>
<line x1="467.55" y1="299.8" x2="467.55" y2="302.4" stroke="#000" stroke-width="0.75"/>
<line x1="470.38" y1="299.8" x2="470.38" y2="302.4" stroke="#000" stroke-width="0.75"/>
<line x1="472.83" y1="299.8" x2="472.83" y2="302.4" stroke="#000" stroke-width="0.75"/>
<line x1="474.99" y1="299.8" x2="474.99" y2="302.4" stroke="#000" stroke-width="0.75"/>
<line x1="489.63" y1="299.8" x2="489.63" y2="302.4" stroke="#000" stroke-width="0.75"/>
<line x1="497.06" y1="299.8" x2="497.06" y2="302.4" stroke="#000" stroke-width="0.75"/>
<line x1="502.34" y1="299.8" x2="502.34" y2="302.4" stroke="#000" stroke-width="0.75"/>
<line x1="506.43" y1="299.8" x2="506.43" y2="302.4" stroke="#000" stroke-width="0.75"/>
<line x1="509.77" y1="299.8" x2="509.77" y2="302.4" stroke="#000" stroke-width="0.75"/>
<line x1="512.6" y1="299.8" x2="512.6" y2="302.4" stroke="#000" stroke-width="0.75"/>
<line x1="515.05" y1="299.8" x2="515.05" y2="302.4" stroke="#000" stroke-width="0.75"/>
<line x1="517.21" y1="299.8" x2="517.21" y2="302.4" stroke="#000" stroke-width="0.75"/>
<line x1="531.85" y1="299.8" x2="531.85" y2="302.4" stroke="#000" stroke-width="0.75"/>
<line x1="539.28" y1="299.8" x2="539.28" y2="302.4" stroke="#000" stroke-width="0.75"/>
<line x1="544.56" y1="299.8" x2="544.56" y2="302.4" stroke="#000" stroke-width="0.75"/>
<line x1="548.65" y1="299.8" x2="548.65" y2="302.4" stroke="#000" stroke-width="0.75"/>
<line x1="551.99" y1="299.8" x2="551.99" y2="302.4" stroke="#000" stroke-width="0.75"/>
<line x1="554.82" y1="299.8" x2="554.82" y2="302.4" stroke="#000" stroke-width="0.75"/>
<line x1="557.27" y1="299.8" x2="557.27" y2="302.4" stroke="#000" stroke-width="0.75"/>
<line x1="559.43" y1="299.8" x2="559.43" y2="302.4" stroke="#000" stroke-width="0.75"/>
<line x1="574.07" y1="299.8" x2="574.07" y2="302.4" stroke="#000" stroke-width="0.75"/>
<line x1="581.5" y1="299.8" x2="581.5" y2="302.4" stroke="#000" stroke-width="0.75"/>
<line x1="586.78" y1="299.8" x2="586.78" y2="302.4" stroke="#000" stroke-width="0.75"/>
<line x1="590.87" y1="299.8" x2="590.87" y2="302.4" stroke="#000" stroke-width="0.75"/>
<line x1="594.21" y1="299.8" x2="594.21" y2="302.4" stroke="#000" stroke-width="0.75"/>
<line x1="597.04" y1="299.8" x2="597.04" y2="302.4" stroke="#000" stroke-width="0.75"/>
<line x1="599.49" y1="299.8" x2="599.49" y2="302.4" stroke="#000" stroke-width="0.75"/>
<line x1="601.65" y1="299.8" x2="601.65" y2="302.4" stroke="#000" stroke-width="0.75"/>
<line x1="616.29" y1="299.8" x2="616.29" y2="302.4" stroke="#000" stroke-width="0.75"/>
<line x1="623.72" y1="299.8" x2="623.72" y2="302.4" stroke="#000" stroke-width="0.75"/>
<line x1="629" y1="299.8" x2="629" y2="302.4" stroke="#000" stroke-width="0.75"/>
<line x1="633.09" y1="299.8" x2="633.09" y2="302.4" stroke="#000" stroke-width="0.75"/>
<line x1="636.43" y1="299.8" x2="636.43" y2="302.4" stroke="#000" stroke-width="0.75"/>
<line x1="639.26" y1="299.8" x2="639.26" y2="302.4" stroke="#000" stroke-width="0.75"/>
<line x1="641.71" y1="299.8" x2="641.71" y2="302.4" stroke="#000" stroke-width="0.75"/>
<line x1="643.87" y1="299.8" x2="643.87" y2="302.4" stroke="#000" stroke-width="0.75"/>
<line x1="658.51" y1="299.8" x2="658.51" y2="302.4" stroke="#000" stroke-width="0.75"/>
<line x1="665.94" y1="299.8" x2="665.94" y2="302.4" stroke="#000" stroke-width="0.75"/>
<line x1="671.22" y1="299.8" x2="671.22" y2="302.4" stroke="#000" stroke-width="0.75"/>
<line x1="675.31" y1="299.8" x2="675.31" y2="302.4" stroke="#000" stroke-width="0.75"/>
<line x1="678.65" y1="299.8" x2="678.65" y2="302.4" stroke="#000" stroke-width="0.75"/>
<line x1="681.48" y1="299.8" x2="681.48" y2="302.4" stroke="#000" stroke-width="0.75"/>
<text x="421" y="317.9" font-size="12.8" font-weight="normal" textLength="15.02" lengthAdjust="spacingAndGlyphs" fill="#000" >10</text>
<text x="437.21" y="313.7" font-size="8.9" font-weight="normal" textLength="12.33" lengthAdjust="spacingAndGlyphs" fill="#000" >−2</text>
<text x="463.22" y="317.9" font-size="12.8" font-weight="normal" textLength="15.02" lengthAdjust="spacingAndGlyphs" fill="#000" >10</text>
<text x="479.48" y="313.7" font-size="8.9" font-weight="normal" textLength="11.24" lengthAdjust="spacingAndGlyphs" fill="#000" >−1</text>
<text x="508.46" y="317.9" font-size="12.8" font-weight="normal" textLength="15.57" lengthAdjust="spacingAndGlyphs" fill="#000" >10</text>
<text x="524.31" y="313.7" font-size="8.9" font-weight="normal" textLength="5.45" lengthAdjust="spacingAndGlyphs" fill="#000" >0</text>
<text x="550.68" y="317.9" font-size="12.8" font-weight="normal" textLength="15.57" lengthAdjust="spacingAndGlyphs" fill="#000" >10</text>
<text x="566.09" y="313.7" font-size="8.9" font-weight="normal" textLength="5.44" lengthAdjust="spacingAndGlyphs" fill="#000" >1</text>
<text x="592.9" y="317.9" font-size="12.8" font-weight="normal" textLength="15.57" lengthAdjust="spacingAndGlyphs" fill="#000" >10</text>
<text x="608.64" y="313.7" font-size="8.9" font-weight="normal" textLength="5.44" lengthAdjust="spacingAndGlyphs" fill="#000" >2</text>
<text x="635.12" y="317.9" font-size="12.8" font-weight="normal" textLength="15.57" lengthAdjust="spacingAndGlyphs" fill="#000" >10</text>
<text x="650.97" y="313.7" font-size="8.9" font-weight="normal" textLength="5.45" lengthAdjust="spacingAndGlyphs" fill="#000" >3</text>
<text x="397.1" y="15.8" font-size="21.5" font-weight="bold" textLength="14.47" lengthAdjust="spacingAndGlyphs" fill="#000" >B</text>
<text x="481.55" y="31.9" font-size="15.3" font-weight="normal" textLength="142.59" lengthAdjust="spacingAndGlyphs" fill="#000" >Efficiency (protein)</text>
<text x="469.77" y="335.1" font-size="12.8" font-weight="normal" textLength="166.22" lengthAdjust="spacingAndGlyphs" fill="#000" >Light intensity (μmol/m²/s)</text>
<text transform="rotate(-90)" x="-283.81" y="386" font-size="12.8" textLength="227.38" lengthAdjust="spacingAndGlyphs">Flux per unit protein (protons/s/kDa)</text>
<rect x="78.7" y="393.8" width="277.6" height="259.9" fill="none" stroke="#222" stroke-width="1" stroke-linejoin="miter"/>
<path d="M78.9,404 L78.91,404.9 L78.93,405.8 L78.94,406.69 L78.96,407.59 L78.99,408.49 L79.02,409.38 L79.05,410.28 L79.08,411.17 L79.12,412.07 L79.16,412.96 L79.2,413.86 L79.25,414.75 L79.3,415.64 L79.36,416.53 L79.41,417.43 L79.47,418.32 L79.54,419.21 L79.6,420.1 L79.67,420.99 L79.75,421.87 L79.82,422.76 L79.9,423.65 L79.98,424.54 L80.07,425.42 L80.16,426.31 L80.25,427.2 L80.34,428.08 L80.44,428.97 L80.54,429.85 L80.64,430.73 L80.75,431.62 L80.86,432.5 L80.97,433.38 L81.08,434.26 L81.2,435.14 L81.32,436.02 L81.45,436.9 L81.57,437.78 L81.7,438.66 L81.83,439.54 L81.97,440.42 L82.11,441.3 L82.25,442.17 L82.39,443.05 L82.53,443.93 L82.68,444.8 L82.83,445.68 L82.99,446.55 L83.14,447.42 L83.3,448.3 L83.46,449.17 L83.63,450.04 L83.79,450.92 L83.96,451.79 L84.14,452.66 L84.31,453.53 L84.49,454.4 L84.67,455.27 L84.85,456.14 L85.03,457 L85.22,457.87 L85.41,458.74 L85.6,459.61 L85.79,460.47 L85.99,461.34 L86.19,462.2 L86.39,463.07 L86.59,463.93 L86.8,464.8 L87.01,465.66 L87.22,466.52 L87.43,467.39 L87.64,468.25 L87.86,469.11 L88.08,469.97 L88.3,470.83 L88.53,471.69 L88.75,472.55 L88.98,473.41 L89.21,474.27 L89.44,475.13 L89.68,475.98 L89.91,476.84 L90.15,477.7 L90.39,478.55 L90.64,479.41 L90.88,480.26 L91.13,481.12 L91.38,481.97 L91.63,482.83 L91.88,483.68 L92.13,484.53 L92.39,485.38 L92.65,486.24 L92.91,487.09 L93.17,487.94 L93.44,488.79 L93.7,489.64 L93.97,490.49 L94.24,491.34 L94.51,492.18 L94.78,493.03 L95.06,493.88 L95.33,494.73 L95.61,495.57 L95.89,496.42 L96.18,497.26 L96.46,498.11 L96.74,498.95 L97.03,499.8 L97.32,500.64 L97.61,501.48 L97.9,502.33 L98.19,503.17 L98.49,504.01 L98.79,504.85 L99.08,505.69 L99.38,506.53 L99.68,507.37 L99.99,508.21 L100.29,509.05 L100.6,509.89 L100.9,510.73 L101.21,511.57 L101.52,512.4 L101.83,513.24 L102.14,514.08 L102.46,514.91 L102.77,515.75 L103.09,516.58 L103.41,517.42 L103.73,518.25 L104.05,519.08 L104.37,519.92 L104.69,520.75 L105.02,521.58 L105.34,522.41 L105.67,523.24 L106,524.07 L106.32,524.9 L106.65,525.73 L106.99,526.56 L107.32,527.39 L107.65,528.22 L107.99,529.05 L108.32,529.88 L108.66,530.7 L109,531.53 L109.33,532.36 L109.67,533.18 L110.01,534.01 L110.36,534.83 L110.7,535.66 L111.04,536.48 L111.39,537.3 L111.73,538.13 L112.08,538.95 L112.42,539.77 L112.77,540.59 L113.12,541.41 L113.47,542.23 L113.82,543.05 L114.17,543.87 L114.52,544.69 L114.88,545.51 L115.23,546.33 L115.58,547.15 L115.94,547.97 L116.29,548.78 L116.65,549.6 L117.01,550.42 L117.36,551.23 L117.72,552.05 L118.08,552.86 L118.44,553.68 L118.8,554.49 L119.16,555.31 L119.52,556.12 L119.88,556.93 L120.25,557.74 L120.61,558.56 L120.97,559.37 L121.34,560.18 L121.7,560.99 L122.06,561.8 L122.43,562.61 L122.79,563.42 L123.16,564.23 L123.52,565.04 L123.89,565.85 L124.26,566.65 L124.62,567.46 L124.99,568.27 L125.36,569.07 L125.73,569.88 L126.1,570.69 L126.46,571.49 L126.83,572.3 L127.2,573.1" fill="none" stroke="#2e8a1f" stroke-width="1.8" stroke-linejoin="round"/>
<path d="M127.2,573.1 L127.41,573.46 L127.62,573.83 L127.83,574.19 L128.04,574.56 L128.25,574.92 L128.46,575.29 L128.67,575.65 L128.88,576.02 L129.09,576.38 L129.3,576.75 L129.51,577.12 L129.72,577.48 L129.93,577.85 L130.14,578.21 L130.35,578.58 L130.56,578.94 L130.77,579.31 L130.98,579.68 L131.19,580.04 L131.4,580.41 L131.61,580.77 L131.82,581.14 L132.03,581.51 L132.24,581.87 L132.46,582.24 L132.67,582.6 L132.88,582.97 L133.09,583.34 L133.3,583.7 L133.51,584.07 L133.73,584.44 L133.94,584.8 L134.15,585.17 L134.36,585.53 L134.57,585.9 L134.79,586.27 L135,586.63 L135.21,587 L135.43,587.36 L135.64,587.73 L135.85,588.1 L136.07,588.46 L136.28,588.83 L136.49,589.19 L136.71,589.56 L136.92,589.92 L137.14,590.29 L137.35,590.65 L137.57,591.02 L137.78,591.39 L138,591.75 L138.21,592.12 L138.43,592.48 L138.64,592.85 L138.86,593.21 L139.08,593.58 L139.29,593.94 L139.51,594.3 L139.73,594.67 L139.94,595.03 L140.16,595.4 L140.38,595.76 L140.6,596.12 L140.82,596.49 L141.03,596.85 L141.25,597.22 L141.47,597.58 L141.69,597.94 L141.91,598.3 L142.13,598.67 L142.35,599.03 L142.57,599.39 L142.79,599.75 L143.01,600.12 L143.24,600.48 L143.46,600.84 L143.68,601.2 L143.9,601.56 L144.12,601.92 L144.35,602.28 L144.57,602.65 L144.79,603.01 L145.02,603.37 L145.24,603.73 L145.47,604.09 L145.69,604.45 L145.92,604.81 L146.14,605.16 L146.37,605.52 L146.6,605.88 L146.82,606.24 L147.05,606.6 L147.28,606.96 L147.51,607.31 L147.73,607.67 L147.96,608.03 L148.19,608.38 L148.42,608.74 L148.65,609.1 L148.88,609.45 L149.11,609.81 L149.34,610.16 L149.57,610.52 L149.81,610.87 L150.04,611.23 L150.27,611.58 L150.5,611.94 L150.74,612.29 L150.97,612.64 L151.21,613 L151.44,613.35 L151.68,613.7 L151.91,614.05 L152.15,614.4 L152.39,614.76 L152.62,615.11 L152.86,615.46 L153.1,615.81 L153.34,616.16 L153.58,616.51 L153.82,616.86 L154.06,617.2 L154.3,617.55 L154.54,617.9 L154.78,618.25 L155.02,618.59 L155.26,618.94 L155.51,619.29 L155.75,619.63 L155.99,619.98 L156.24,620.32 L156.48,620.67 L156.73,621.01 L156.97,621.36 L157.22,621.7 L157.47,622.04 L157.72,622.39 L157.96,622.73 L158.21,623.07 L158.46,623.41 L158.71,623.75 L158.96,624.09 L159.21,624.43 L159.47,624.77 L159.72,625.11 L159.97,625.45 L160.22,625.79 L160.48,626.12 L160.73,626.46 L160.99,626.8 L161.24,627.13 L161.5,627.47 L161.76,627.8 L162.01,628.14 L162.27,628.47 L162.53,628.81 L162.79,629.14 L163.05,629.47 L163.31,629.8 L163.57,630.13 L163.84,630.46 L164.1,630.79 L164.36,631.12 L164.63,631.45 L164.89,631.78 L165.15,632.11 L165.42,632.44 L165.69,632.77 L165.95,633.09 L166.22,633.42 L166.49,633.74 L166.76,634.07 L167.03,634.39 L167.3,634.71 L167.57,635.04 L167.84,635.36 L168.12,635.68 L168.39,636 L168.66,636.32 L168.94,636.64 L169.21,636.96 L169.49,637.28 L169.77,637.6 L170.04,637.92 L170.32,638.23 L170.6,638.55 L170.88,638.87 L171.16,639.18 L171.44,639.49 L171.73,639.81 L172.01,640.12 L172.29,640.43 L172.58,640.75 L172.86,641.06 L173.15,641.37 L173.43,641.68 L173.72,641.99 L174.01,642.29 L174.3,642.6 L172.8,644.6 L170.6,646 L166.6,647.4" fill="none" stroke="#2e8a1f" stroke-width="1.8" stroke-dasharray="6.66,2.88" stroke-linejoin="round"/>
<path d="M78.8,529.3 L78.87,529.65 L78.94,530 L79.01,530.34 L79.09,530.68 L79.17,531.02 L79.25,531.36 L79.34,531.7 L79.43,532.04 L79.53,532.37 L79.62,532.7 L79.72,533.03 L79.82,533.36 L79.93,533.68 L80.04,534 L80.15,534.33 L80.26,534.65 L80.38,534.96 L80.5,535.28 L80.62,535.59 L80.75,535.91 L80.87,536.22 L81,536.53 L81.14,536.83 L81.27,537.14 L81.41,537.44 L81.56,537.74 L81.7,538.04 L81.85,538.34 L82,538.64 L82.15,538.93 L82.3,539.22 L82.46,539.51 L82.62,539.8 L82.78,540.09 L82.95,540.38 L83.12,540.66 L83.28,540.95 L83.46,541.23 L83.63,541.51 L83.81,541.78 L83.99,542.06 L84.17,542.34 L84.35,542.61 L84.54,542.88 L84.73,543.15 L84.92,543.42 L85.11,543.69 L85.31,543.95 L85.5,544.22 L85.7,544.48 L85.9,544.74 L86.11,545 L86.31,545.26 L86.52,545.51 L86.73,545.77 L86.94,546.02 L87.16,546.28 L87.37,546.53 L87.59,546.78 L87.81,547.02 L88.03,547.27 L88.26,547.52 L88.48,547.76 L88.71,548 L88.94,548.24 L89.17,548.48 L89.4,548.72 L89.64,548.96 L89.87,549.2 L90.11,549.43 L90.35,549.67 L90.59,549.9 L90.83,550.13 L91.08,550.36 L91.33,550.59 L91.57,550.82 L91.82,551.04 L92.07,551.27 L92.33,551.49 L92.58,551.71 L92.84,551.94 L93.09,552.16 L93.35,552.38 L93.61,552.59 L93.87,552.81 L94.13,553.03 L94.4,553.24 L94.66,553.46 L94.93,553.67 L95.2,553.88 L95.47,554.09 L95.74,554.3 L96.01,554.51 L96.28,554.72 L96.55,554.92 L96.83,555.13 L97.1,555.33 L97.38,555.54 L97.66,555.74 L97.94,555.94 L98.22,556.14 L98.5,556.34 L98.78,556.54 L99.07,556.74 L99.35,556.94 L99.64,557.13 L99.92,557.33 L100.21,557.52 L100.5,557.72 L100.79,557.91 L101.07,558.1 L101.37,558.29 L101.66,558.48 L101.95,558.67 L102.24,558.86 L102.53,559.05 L102.83,559.24 L103.12,559.43 L103.42,559.61 L103.71,559.8 L104.01,559.98 L104.31,560.17 L104.61,560.35 L104.9,560.53 L105.2,560.71 L105.5,560.89 L105.8,561.07 L106.1,561.25 L106.4,561.43 L106.7,561.61 L107,561.79 L107.31,561.97 L107.61,562.15 L107.91,562.32 L108.21,562.5 L108.52,562.67 L108.82,562.85 L109.12,563.02 L109.43,563.2 L109.73,563.37 L110.03,563.54 L110.34,563.71 L110.64,563.88 L110.95,564.06 L111.25,564.23 L111.56,564.4 L111.86,564.57 L112.16,564.74 L112.47,564.91 L112.77,565.07 L113.08,565.24 L113.38,565.41 L113.69,565.58 L113.99,565.75 L114.29,565.91 L114.6,566.08 L114.9,566.25 L115.21,566.41 L115.51,566.58 L115.81,566.74 L116.11,566.91 L116.42,567.07 L116.72,567.24 L117.02,567.4 L117.32,567.57 L117.62,567.73 L117.92,567.9 L118.22,568.06 L118.52,568.22 L118.82,568.39 L119.12,568.55 L119.42,568.71 L119.72,568.88 L120.01,569.04 L120.31,569.2 L120.61,569.36 L120.9,569.53 L121.2,569.69 L121.49,569.85 L121.78,570.01 L122.08,570.18 L122.37,570.34 L122.66,570.5 L122.95,570.66 L123.24,570.82 L123.53,570.99 L123.82,571.15 L124.1,571.31 L124.39,571.47 L124.68,571.64 L124.96,571.8 L125.24,571.96 L125.53,572.12 L125.81,572.29 L126.09,572.45 L126.37,572.61 L126.65,572.77 L126.92,572.94 L127.2,573.1" fill="none" stroke="#c024e0" stroke-width="1.8" stroke-dasharray="6.66,2.88" stroke-linejoin="round"/>
<path d="M127.2,573.1 L128.23,573.58 L129.26,574.06 L130.28,574.54 L131.32,575.02 L132.35,575.49 L133.38,575.96 L134.41,576.43 L135.45,576.89 L136.48,577.35 L137.52,577.81 L138.56,578.27 L139.59,578.72 L140.63,579.17 L141.67,579.62 L142.71,580.07 L143.76,580.51 L144.8,580.95 L145.84,581.39 L146.89,581.83 L147.93,582.26 L148.98,582.69 L150.03,583.12 L151.08,583.55 L152.13,583.97 L153.18,584.39 L154.23,584.81 L155.28,585.23 L156.33,585.64 L157.38,586.05 L158.44,586.46 L159.49,586.87 L160.55,587.27 L161.61,587.67 L162.66,588.07 L163.72,588.47 L164.78,588.87 L165.84,589.26 L166.9,589.65 L167.97,590.04 L169.03,590.43 L170.09,590.81 L171.15,591.19 L172.22,591.57 L173.28,591.95 L174.35,592.33 L175.42,592.7 L176.49,593.07 L177.55,593.44 L178.62,593.81 L179.69,594.18 L180.76,594.54 L181.83,594.9 L182.91,595.26 L183.98,595.62 L185.05,595.97 L186.13,596.33 L187.2,596.68 L188.28,597.03 L189.35,597.38 L190.43,597.72 L191.51,598.07 L192.58,598.41 L193.66,598.75 L194.74,599.09 L195.82,599.43 L196.9,599.76 L197.98,600.1 L199.06,600.43 L200.14,600.76 L201.23,601.09 L202.31,601.41 L203.39,601.74 L204.48,602.06 L205.56,602.38 L206.65,602.7 L207.74,603.02 L208.82,603.34 L209.91,603.65 L211,603.96 L212.08,604.28 L213.17,604.59 L214.26,604.9 L215.35,605.2 L216.44,605.51 L217.53,605.81 L218.62,606.11 L219.71,606.42 L220.81,606.72 L221.9,607.01 L222.99,607.31 L224.09,607.61 L225.18,607.9 L226.27,608.19 L227.37,608.48 L228.46,608.77 L229.56,609.06 L230.65,609.35 L231.75,609.64 L232.85,609.92 L233.94,610.21 L235.04,610.49 L236.14,610.77 L237.24,611.05 L238.34,611.33 L239.44,611.61 L240.54,611.88 L241.63,612.16 L242.73,612.43 L243.83,612.7 L244.94,612.98 L246.04,613.25 L247.14,613.52 L248.24,613.78 L249.34,614.05 L250.44,614.32 L251.55,614.58 L252.65,614.85 L253.75,615.11 L254.85,615.37 L255.96,615.64 L257.06,615.9 L258.17,616.16 L259.27,616.41 L260.37,616.67 L261.48,616.93 L262.58,617.19 L263.69,617.44 L264.79,617.7 L265.9,617.95 L267.01,618.2 L268.11,618.45 L269.22,618.71 L270.32,618.96 L271.43,619.21 L272.54,619.46 L273.64,619.7 L274.75,619.95 L275.86,620.2 L276.96,620.44 L278.07,620.69 L279.18,620.94 L280.29,621.18 L281.39,621.42 L282.5,621.67 L283.61,621.91 L284.72,622.15 L285.83,622.39 L286.93,622.63 L288.04,622.88 L289.15,623.12 L290.26,623.36 L291.37,623.59 L292.48,623.83 L293.58,624.07 L294.69,624.31 L295.8,624.55 L296.91,624.78 L298.02,625.02 L299.13,625.26 L300.23,625.49 L301.34,625.73 L302.45,625.96 L303.56,626.2 L304.67,626.43 L305.78,626.67 L306.89,626.9 L307.99,627.14 L309.1,627.37 L310.21,627.61 L311.32,627.84 L312.43,628.07 L313.54,628.31 L314.64,628.54 L315.75,628.77 L316.86,629 L317.97,629.24 L319.07,629.47 L320.18,629.7 L321.29,629.93 L322.4,630.17 L323.5,630.4 L324.61,630.63 L325.72,630.86 L326.82,631.1 L327.93,631.33 L329.04,631.56 L330.14,631.8 L331.25,632.03 L332.35,632.26 L333.46,632.49 L334.56,632.73 L335.67,632.96 L336.77,633.19 L337.88,633.43 L338.98,633.66 L340.09,633.9 L341.19,634.13 L342.3,634.37 L343.4,634.6" fill="none" stroke="#c024e0" stroke-width="1.8" stroke-linejoin="round" stroke-linecap="square"/>
<circle cx="127.1" cy="573.0" r="4.2" fill="#000"/>
<line x1="74.2" y1="653.7" x2="78.7" y2="653.7" stroke="#000" stroke-width="1"/>
<text x="17.83" y="658.1" font-size="12.8" font-weight="normal" textLength="51.59" lengthAdjust="spacingAndGlyphs" fill="#000" >0.00000</text>
<line x1="74.2" y1="621.98" x2="78.7" y2="621.98" stroke="#000" stroke-width="1"/>
<text x="17.83" y="626.38" font-size="12.8" font-weight="normal" textLength="51.59" lengthAdjust="spacingAndGlyphs" fill="#000" >0.00025</text>
<line x1="74.2" y1="590.25" x2="78.7" y2="590.25" stroke="#000" stroke-width="1"/>
<text x="17.83" y="594.65" font-size="12.8" font-weight="normal" textLength="51.59" lengthAdjust="spacingAndGlyphs" fill="#000" >0.00050</text>
<line x1="74.2" y1="558.53" x2="78.7" y2="558.53" stroke="#000" stroke-width="1"/>
<text x="17.83" y="562.93" font-size="12.8" font-weight="normal" textLength="51.59" lengthAdjust="spacingAndGlyphs" fill="#000" >0.00075</text>
<line x1="74.2" y1="526.8" x2="78.7" y2="526.8" stroke="#000" stroke-width="1"/>
<text x="17.83" y="531.2" font-size="12.8" font-weight="normal" textLength="51.59" lengthAdjust="spacingAndGlyphs" fill="#000" >0.00100</text>
<line x1="74.2" y1="495.08" x2="78.7" y2="495.08" stroke="#000" stroke-width="1"/>
<text x="17.83" y="499.48" font-size="12.8" font-weight="normal" textLength="51.59" lengthAdjust="spacingAndGlyphs" fill="#000" >0.00125</text>
<line x1="74.2" y1="463.35" x2="78.7" y2="463.35" stroke="#000" stroke-width="1"/>
<text x="17.83" y="467.75" font-size="12.8" font-weight="normal" textLength="51.59" lengthAdjust="spacingAndGlyphs" fill="#000" >0.00150</text>
<line x1="74.2" y1="431.62" x2="78.7" y2="431.62" stroke="#000" stroke-width="1"/>
<text x="17.83" y="436.02" font-size="12.8" font-weight="normal" textLength="51.59" lengthAdjust="spacingAndGlyphs" fill="#000" >0.00175</text>
<line x1="74.2" y1="399.9" x2="78.7" y2="399.9" stroke="#000" stroke-width="1"/>
<text x="17.83" y="404.3" font-size="12.8" font-weight="normal" textLength="51.59" lengthAdjust="spacingAndGlyphs" fill="#000" >0.00200</text>
<line x1="78.7" y1="653.7" x2="78.7" y2="658.2" stroke="#000" stroke-width="1"/>
<text x="69.08" y="672.1" font-size="12.8" font-weight="normal" textLength="19.84" lengthAdjust="spacingAndGlyphs" fill="#000" >0.0</text>
<line x1="123.17" y1="653.7" x2="123.17" y2="658.2" stroke="#000" stroke-width="1"/>
<text x="113.6" y="672.1" font-size="12.8" font-weight="normal" textLength="19.84" lengthAdjust="spacingAndGlyphs" fill="#000" >0.1</text>
<line x1="167.64" y1="653.7" x2="167.64" y2="658.2" stroke="#000" stroke-width="1"/>
<text x="158.07" y="672.1" font-size="12.8" font-weight="normal" textLength="19.84" lengthAdjust="spacingAndGlyphs" fill="#000" >0.2</text>
<line x1="212.11" y1="653.7" x2="212.11" y2="658.2" stroke="#000" stroke-width="1"/>
<text x="202.49" y="672.1" font-size="12.8" font-weight="normal" textLength="19.84" lengthAdjust="spacingAndGlyphs" fill="#000" >0.3</text>
<line x1="256.58" y1="653.7" x2="256.58" y2="658.2" stroke="#000" stroke-width="1"/>
<text x="246.84" y="672.1" font-size="12.8" font-weight="normal" textLength="19.84" lengthAdjust="spacingAndGlyphs" fill="#000" >0.4</text>
<line x1="301.05" y1="653.7" x2="301.05" y2="658.2" stroke="#000" stroke-width="1"/>
<text x="291.43" y="672.1" font-size="12.8" font-weight="normal" textLength="19.84" lengthAdjust="spacingAndGlyphs" fill="#000" >0.5</text>
<line x1="345.52" y1="653.7" x2="345.52" y2="658.2" stroke="#000" stroke-width="1"/>
<text x="335.9" y="672.1" font-size="12.8" font-weight="normal" textLength="19.84" lengthAdjust="spacingAndGlyphs" fill="#000" >0.6</text>
<text x="31.47" y="369.8" font-size="21.5" font-weight="bold" textLength="14.31" lengthAdjust="spacingAndGlyphs" fill="#000" >C</text>
<text x="173.18" y="386.1" font-size="15.3" font-weight="normal" textLength="88.18" lengthAdjust="spacingAndGlyphs" fill="#000" >Pareto front</text>
<text x="104.09" y="688.3" font-size="12.8" font-weight="normal" textLength="226.67" lengthAdjust="spacingAndGlyphs" fill="#000" >Flux per unit protein (protons/s/kDa)</text>
<text transform="rotate(-90)" x="-655.21" y="10.4" font-size="12.8" textLength="262.28" lengthAdjust="spacingAndGlyphs">Light efficiency (protons/s/kDa/μmol/m²/s)</text>
<rect x="208.7" y="400.2" width="141.6" height="57.9" rx="2.5" fill="#fff" fill-opacity="0.8" stroke="#d6d6d6" stroke-width="1"/>
<line x1="212.4" y1="409.8" x2="239.0" y2="409.8" stroke="#2e8a1f" stroke-width="1.8"/>
<line x1="212.4" y1="428.1" x2="239.0" y2="428.1" stroke="#c024e0" stroke-width="1.8"/>
<circle cx="225.7" cy="446.6" r="4.2" fill="#000"/>
<text x="248.14" y="414.7" font-size="12.8" font-weight="normal" textLength="70.48" lengthAdjust="spacingAndGlyphs" fill="#000" >Chlorophyll</text>
<text x="247.72" y="432.6" font-size="12.8" font-weight="normal" textLength="65.84" lengthAdjust="spacingAndGlyphs" fill="#000" >Rhodopsin</text>
<text x="248.16" y="450.8" font-size="12.8" font-weight="normal" textLength="96.5" lengthAdjust="spacingAndGlyphs" fill="#000" >Crossover Point</text>
<rect x="423.0" y="394.0" width="260.2" height="259.9" fill="none" stroke="#222" stroke-width="1" stroke-linejoin="miter"/>
<path d="M426.9,433.2 L426.94,434.03 L426.98,434.85 L427.03,435.68 L427.09,436.5 L427.16,437.32 L427.23,438.14 L427.32,438.95 L427.4,439.76 L427.5,440.58 L427.6,441.39 L427.71,442.19 L427.83,443 L427.95,443.8 L428.08,444.61 L428.22,445.41 L428.36,446.2 L428.51,447 L428.67,447.8 L428.83,448.59 L429,449.38 L429.18,450.17 L429.36,450.96 L429.54,451.74 L429.74,452.53 L429.94,453.31 L430.14,454.09 L430.35,454.87 L430.57,455.65 L430.79,456.43 L431.01,457.2 L431.24,457.97 L431.48,458.74 L431.72,459.51 L431.97,460.28 L432.22,461.05 L432.48,461.82 L432.74,462.58 L433,463.34 L433.28,464.1 L433.55,464.86 L433.83,465.62 L434.11,466.38 L434.4,467.14 L434.69,467.89 L434.99,468.64 L435.29,469.4 L435.6,470.15 L435.9,470.9 L436.22,471.64 L436.53,472.39 L436.85,473.14 L437.17,473.88 L437.5,474.63 L437.83,475.37 L438.16,476.11 L438.5,476.85 L438.84,477.59 L439.18,478.33 L439.53,479.06 L439.87,479.8 L440.22,480.54 L440.58,481.27 L440.93,482 L441.29,482.73 L441.65,483.47 L442.02,484.2 L442.38,484.93 L442.75,485.65 L443.12,486.38 L443.49,487.11 L443.86,487.83 L444.24,488.56 L444.62,489.28 L445,490.01 L445.38,490.73 L445.76,491.45 L446.14,492.17 L446.53,492.9 L446.91,493.62 L447.3,494.34 L447.69,495.05 L448.08,495.77 L448.47,496.49 L448.86,497.21 L449.25,497.92 L449.64,498.64 L450.04,499.35 L450.43,500.07 L450.83,500.78 L451.22,501.5 L451.62,502.21 L452.02,502.92 L452.42,503.63 L452.82,504.34 L453.22,505.05 L453.62,505.76 L454.02,506.47 L454.43,507.18 L454.83,507.89 L455.24,508.6 L455.64,509.3 L456.05,510.01 L456.46,510.71 L456.87,511.42 L457.28,512.12 L457.69,512.82 L458.11,513.53 L458.52,514.23 L458.94,514.93 L459.35,515.63 L459.77,516.33 L460.19,517.02 L460.61,517.72 L461.03,518.42 L461.45,519.11 L461.87,519.81 L462.3,520.5 L462.72,521.2 L463.15,521.89 L463.57,522.58 L464,523.27 L464.43,523.96 L464.86,524.65 L465.3,525.34 L465.73,526.03 L466.16,526.72 L466.6,527.4 L467.04,528.09 L467.47,528.77 L467.91,529.46 L468.35,530.14 L468.8,530.82 L469.24,531.5 L469.68,532.18 L470.13,532.86 L470.58,533.54 L471.03,534.22 L471.48,534.89 L471.93,535.57 L472.38,536.24 L472.83,536.91 L473.29,537.59 L473.75,538.26 L474.2,538.93 L474.66,539.6 L475.12,540.27 L475.59,540.94 L476.05,541.6 L476.52,542.27 L476.98,542.93 L477.45,543.6 L477.92,544.26 L478.39,544.92 L478.86,545.58 L479.34,546.24 L479.81,546.9 L480.29,547.56 L480.77,548.21 L481.25,548.87 L481.73,549.52 L482.21,550.18 L482.7,550.83 L483.18,551.48 L483.67,552.13 L484.16,552.78 L484.65,553.43 L485.14,554.08 L485.64,554.72 L486.13,555.37 L486.63,556.01 L487.13,556.65 L487.63,557.29 L488.13,557.93 L488.63,558.57 L489.14,559.21 L489.65,559.85 L490.15,560.48 L490.67,561.12 L491.18,561.75 L491.69,562.38 L492.21,563.01 L492.72,563.64 L493.24,564.27 L493.76,564.9 L494.29,565.52 L494.81,566.15 L495.34,566.77 L495.86,567.39 L496.39,568.01 L496.92,568.63 L497.46,569.25 L497.99,569.87 L498.53,570.48 L499.07,571.1 L499.61,571.71 L500.15,572.32 L500.69,572.93 L501.24,573.54 L501.78,574.15 L502.33,574.76 L502.88,575.36 L503.44,575.97 L503.99,576.57 L504.55,577.17 L505.1,577.77 L505.66,578.36 L506.22,578.96 L506.79,579.55 L507.35,580.15 L507.92,580.74 L508.48,581.33 L509.05,581.92 L509.62,582.5 L510.2,583.09 L510.77,583.67 L511.35,584.25 L511.92,584.83 L512.5,585.41 L513.08,585.99 L513.67,586.57 L514.25,587.14 L514.84,587.71 L515.42,588.28 L516.01,588.85 L516.61,589.42 L517.2,589.98 L517.79,590.54 L518.39,591.11 L518.99,591.66 L519.58,592.22 L520.19,592.78 L520.79,593.33 L521.39,593.88 L522,594.43 L522.61,594.98 L523.21,595.53 L523.82,596.07 L524.44,596.62 L525.05,597.16 L525.67,597.7 L526.28,598.23 L526.9,598.77 L527.52,599.3 L528.14,599.83 L528.77,600.36 L529.39,600.89 L530.02,601.41 L530.65,601.94 L531.28,602.46 L531.91,602.97 L532.54,603.49 L533.18,604 L533.81,604.52 L534.45,605.03 L535.09,605.53 L535.73,606.04 L536.37,606.54 L537.01,607.05 L537.66,607.54 L538.31,608.04 L538.96,608.54 L539.6,609.03 L540.26,609.52 L540.91,610.01 L541.56,610.49 L542.22,610.98 L542.88,611.46 L543.54,611.93 L544.2,612.41 L544.86,612.88 L545.52,613.36 L546.19,613.83 L546.85,614.29 L547.52,614.76 L548.19,615.22 L548.86,615.68 L549.54,616.13 L550.21,616.59 L550.89,617.04 L551.56,617.49 L552.24,617.94 L552.92,618.38 L553.6,618.82 L554.29,619.26 L554.97,619.7 L555.66,620.13 L556.34,620.57 L557.03,620.99 L557.72,621.42 L558.41,621.84 L559.11,622.27 L559.8,622.68 L560.5,623.1 L561.2,623.51 L561.89,623.92 L562.6,624.33 L563.3,624.74 L564,625.14 L564.7,625.54 L565.41,625.93 L566.12,626.33 L566.83,626.72 L567.54,627.11 L568.25,627.49 L568.96,627.88 L569.68,628.25 L570.39,628.63 L571.11,629.01 L571.83,629.38 L572.55,629.74 L573.27,630.11 L573.99,630.47 L574.72,630.83 L575.44,631.19 L576.17,631.54 L576.9,631.89 L577.63,632.24 L578.36,632.58 L579.09,632.93 L579.82,633.26 L580.56,633.6 L581.3,633.93 L582.03,634.26 L582.77,634.59 L583.51,634.91 L584.25,635.23 L585,635.55 L585.74,635.86 L586.49,636.17 L587.23,636.48 L587.98,636.78 L588.73,637.08 L589.48,637.38 L590.24,637.67 L590.99,637.96 L591.75,638.25 L592.5,638.54 L593.26,638.82 L594.02,639.09 L594.78,639.37 L595.54,639.64 L596.3,639.91 L597.07,640.17 L597.83,640.43 L598.6,640.69 L599.37,640.95 L600.13,641.2 L600.91,641.44 L601.68,641.69 L602.45,641.93 L603.22,642.17 L604,642.4 L604.78,642.63 L605.55,642.86 L606.33,643.08 L607.11,643.3 L607.9,643.52 L608.68,643.73 L609.46,643.94 L610.25,644.14 L611.03,644.34 L611.82,644.54 L612.61,644.74 L613.4,644.93 L614.19,645.11 L614.99,645.3 L615.78,645.48 L616.57,645.65 L617.37,645.83 L618.17,645.99 L618.97,646.16 L619.77,646.32 L620.57,646.48 L621.37,646.63 L622.17,646.78 L622.98,646.93 L623.78,647.07 L624.59,647.21 L625.4,647.34 L626.21,647.47 L627.02,647.6 L627.83,647.72 L628.64,647.84 L629.46,647.96 L630.27,648.07 L631.09,648.17 L631.9,648.28 L632.72,648.38 L633.54,648.47 L634.36,648.56 L635.19,648.65 L636.01,648.73 L636.83,648.81 L637.66,648.89 L638.48,648.96 L639.31,649.02 L640.14,649.09 L640.97,649.15 L641.8,649.2" fill="none" stroke="#55c855" stroke-width="1.6"/>
<path d="M427.6,515.7 L428.07,516.44 L428.55,517.18 L429.03,517.91 L429.51,518.64 L430,519.37 L430.49,520.09 L430.98,520.81 L431.48,521.52 L431.98,522.23 L432.49,522.94 L433,523.64 L433.51,524.34 L434.03,525.04 L434.55,525.73 L435.07,526.42 L435.6,527.11 L436.13,527.79 L436.66,528.46 L437.2,529.14 L437.74,529.81 L438.28,530.47 L438.83,531.14 L439.38,531.79 L439.93,532.45 L440.48,533.1 L441.04,533.75 L441.61,534.39 L442.17,535.03 L442.74,535.67 L443.31,536.3 L443.89,536.93 L444.47,537.56 L445.05,538.18 L445.63,538.8 L446.22,539.41 L446.81,540.03 L447.41,540.63 L448,541.24 L448.6,541.84 L449.21,542.43 L449.81,543.03 L450.42,543.62 L451.03,544.2 L451.65,544.79 L452.27,545.37 L452.89,545.94 L453.51,546.51 L454.14,547.08 L454.76,547.65 L455.4,548.21 L456.03,548.77 L456.67,549.32 L457.31,549.87 L457.95,550.42 L458.59,550.96 L459.24,551.5 L459.89,552.04 L460.55,552.57 L461.2,553.1 L461.86,553.63 L462.52,554.15 L463.18,554.67 L463.85,555.19 L464.52,555.7 L465.19,556.21 L465.86,556.72 L466.54,557.22 L467.22,557.72 L467.9,558.21 L468.58,558.71 L469.27,559.2 L469.96,559.68 L470.65,560.16 L471.34,560.64 L472.03,561.12 L472.73,561.59 L473.43,562.06 L474.13,562.52 L474.84,562.99 L475.54,563.44 L476.25,563.9 L476.96,564.35 L477.67,564.8 L478.39,565.24 L479.11,565.69 L479.83,566.12 L480.55,566.56 L481.27,566.99 L482,567.42 L482.72,567.85 L483.45,568.27 L484.18,568.69 L484.92,569.1 L485.65,569.52 L486.39,569.92 L487.13,570.33 L487.87,570.73 L488.61,571.13 L489.36,571.53 L490.1,571.92 L490.85,572.31 L491.6,572.7 L492.35,573.08 L493.11,573.46 L493.86,573.84 L494.62,574.21 L495.38,574.58 L496.14,574.95 L496.9,575.31 L497.66,575.67 L498.43,576.03 L499.2,576.39 L499.97,576.74 L500.74,577.09 L501.51,577.43 L502.28,577.77 L503.06,578.11 L503.83,578.45 L504.61,578.78 L505.39,579.11 L506.17,579.44 L506.95,579.76 L507.73,580.08 L508.52,580.4 L509.31,580.71 L510.09,581.03 L510.88,581.33 L511.67,581.64 L512.46,581.94 L513.26,582.24 L514.05,582.54 L514.84,582.83 L515.64,583.12 L516.44,583.41 L517.24,583.69 L518.04,583.97 L518.84,584.25 L519.64,584.53 L520.45,584.8 L521.25,585.07 L522.06,585.33 L522.86,585.6 L523.67,585.86 L524.48,586.12 L525.29,586.37 L526.1,586.63 L526.92,586.88 L527.73,587.12 L528.54,587.37 L529.36,587.61 L530.18,587.85 L530.99,588.08 L531.81,588.32 L532.63,588.55 L533.45,588.77 L534.27,589 L535.1,589.22 L535.92,589.44 L536.75,589.66 L537.57,589.87 L538.4,590.09 L539.22,590.3 L540.05,590.5 L540.88,590.71 L541.71,590.91 L542.54,591.11 L543.37,591.3 L544.2,591.5 L545.04,591.69 L545.87,591.88 L546.71,592.07 L547.54,592.25 L548.38,592.43 L549.21,592.61 L550.05,592.79 L550.89,592.96 L551.73,593.13 L552.57,593.3 L553.41,593.47 L554.25,593.64 L555.09,593.8 L555.93,593.96 L556.78,594.12 L557.62,594.27 L558.46,594.43 L559.31,594.58 L560.15,594.73 L561,594.87 L561.84,595.02 L562.69,595.16 L563.54,595.3 L564.39,595.44 L565.24,595.57 L566.08,595.71 L566.93,595.84 L567.78,595.97 L568.63,596.09 L569.48,596.22 L570.33,596.34 L571.19,596.46 L572.04,596.58 L572.89,596.69 L573.74,596.81 L574.6,596.92 L575.45,597.03 L576.3,597.14 L577.16,597.25 L578.01,597.35 L578.86,597.45 L579.72,597.55 L580.57,597.65 L581.43,597.75 L582.29,597.84 L583.14,597.93 L584,598.02 L584.85,598.11 L585.71,598.2 L586.57,598.29 L587.42,598.37 L588.28,598.45 L589.14,598.53 L589.99,598.61 L590.85,598.68 L591.71,598.76 L592.57,598.83 L593.42,598.9 L594.28,598.97 L595.14,599.04 L596,599.1 L596.86,599.17 L597.71,599.23 L598.57,599.29 L599.43,599.35 L600.29,599.4 L601.14,599.46 L602,599.51 L602.86,599.56 L603.72,599.61 L604.57,599.66 L605.43,599.71 L606.29,599.76 L607.15,599.8 L608,599.84 L608.86,599.89 L609.72,599.93 L610.57,599.96 L611.43,600 L612.29,600.04 L613.14,600.07 L614,600.1 L614.85,600.13 L615.71,600.16 L616.56,600.19 L617.42,600.22 L618.27,600.24 L619.13,600.27 L619.98,600.29 L620.83,600.31 L621.69,600.33 L622.54,600.35 L623.39,600.37 L624.25,600.38 L625.1,600.4 L625.95,600.41 L626.8,600.42 L627.65,600.43 L628.5,600.44 L629.35,600.45 L630.2,600.46 L631.05,600.47 L631.9,600.47 L632.74,600.48 L633.59,600.48 L634.44,600.48 L635.28,600.48 L636.13,600.48 L636.97,600.48 L637.82,600.48 L638.66,600.47 L639.51,600.47 L640.35,600.46 L641.19,600.46 L642.03,600.45 L642.87,600.44 L643.71,600.43 L644.55,600.42 L645.39,600.41 L646.23,600.4 L647.07,600.38 L647.9,600.37 L648.74,600.35 L649.57,600.34 L650.41,600.32 L651.24,600.3 L652.08,600.28 L652.91,600.26 L653.74,600.24 L654.57,600.22 L655.4,600.2" fill="none" stroke="#8e48ad" stroke-width="1.6"/>
<circle cx="436.5" cy="596.9" r="4.65" fill="#c9eec9" stroke="#c4c4c4" stroke-width="1.2"/>
<circle cx="453.4" cy="569.2" r="4.65" fill="#8edb8e" stroke="#7a7a7a" stroke-width="1.3"/>
<circle cx="524.6" cy="616.4" r="4.65" fill="#b388c8" stroke="#7a7a7a" stroke-width="1.3"/>
<circle cx="507.8" cy="643.3" r="4.65" fill="#dccdea" stroke="#c4c4c4" stroke-width="1.2"/>
<rect x="436.4" y="624.9" width="9.2" height="9.2" rx="1.2" fill="#cdeff3" stroke="#c8c8c8" stroke-width="1.2"/>
<path d="M434.4,622.9 L447.6,636.1 M434.4,636.1 L447.6,622.9" stroke="#f01c1c" stroke-width="1.7"/>
<rect x="466.4" y="613.4" width="9.2" height="9.2" rx="1.2" fill="#f7f5c4" stroke="#c8c8c8" stroke-width="1.2"/>
<path d="M464.4,611.4 L477.6,624.6 M464.4,624.6 L477.6,611.4" stroke="#f01c1c" stroke-width="1.7"/>
<rect x="470.3" y="639" width="9.2" height="9.2" rx="1.2" fill="#f2d3d3" stroke="#c8c8c8" stroke-width="1.2"/>
<path d="M468.3,637 L481.5,650.2 M468.3,650.2 L481.5,637" stroke="#f01c1c" stroke-width="1.7"/>
<path d="M429.6,592.3 Q444.18,568.06 459.17,543.13" fill="none" stroke="#000" stroke-width="1.6" stroke-linecap="butt"/>
<path d="M463.4,536.1 L462.19,545.87 L455.33,541.75 Z" fill="#000"/>
<path d="M442.7,603.5 Q457.35,578.82 472.41,553.45" fill="none" stroke="#000" stroke-width="1.6" stroke-linecap="butt"/>
<path d="M476.6,546.4 L475.44,556.18 L468.57,552.1 Z" fill="#000"/>
<path d="M500.9,640.4 Q514.05,618.22 527.62,595.35" fill="none" stroke="#000" stroke-width="1.6" stroke-linecap="butt"/>
<path d="M531.8,588.3 L530.65,598.08 L523.77,594 Z" fill="#000"/>
<path d="M514.7,650.5 Q528.37,626.46 542.45,601.73" fill="none" stroke="#000" stroke-width="1.6" stroke-linecap="butt"/>
<path d="M546.5,594.6 L545.53,604.4 L538.57,600.44 Z" fill="#000"/>
<path d="M440.7,495.3 Q436.23,487.18 433.3,477.56" fill="none" stroke="#000" stroke-width="1.6" stroke-linecap="butt"/>
<path d="M431.1,472.3 L436.05,477.47 L430.38,479.42 Z" fill="#000"/>
<path d="M472.6,528.7 Q466.76,521.14 462.19,511.85" fill="none" stroke="#000" stroke-width="1.6" stroke-linecap="butt"/>
<path d="M459.2,507 L464.91,511.32 L459.62,514.15 Z" fill="#000"/>
<path d="M482.9,543.7 Q487.21,549.61 492.8,555.48" fill="none" stroke="#000" stroke-width="1.6" stroke-linecap="butt"/>
<path d="M495.5,558.7 L490.47,556.52 L493.79,553.49 Z" fill="#000"/>
<path d="M549.1,587.2 Q556.4,588.93 564.66,589.81" fill="none" stroke="#000" stroke-width="1.6" stroke-linecap="butt"/>
<path d="M568.8,590.5 L563.56,592.1 L564.12,587.64 Z" fill="#000"/>
<path d="M592.1,602.9 Q602.21,604.18 613.2,603.9" fill="none" stroke="#000" stroke-width="1.6" stroke-linecap="butt"/>
<path d="M617.4,604.1 L612.41,606.38 L612.39,601.88 Z" fill="#000"/>
<circle cx="431.8" cy="461.9" r="4.65" fill="#52c652" stroke="#000" stroke-width="1.45"/>
<circle cx="454.1" cy="503.6" r="4.65" fill="#52c652" stroke="#000" stroke-width="1.45"/>
<circle cx="470.1" cy="542.3" r="4.65" fill="#52c652" stroke="#000" stroke-width="1.45"/>
<circle cx="501.1" cy="567.0" r="4.65" fill="#52c652" stroke="#000" stroke-width="1.45"/>
<circle cx="519.8" cy="580.1" r="4.65" fill="#8e4aab" stroke="#000" stroke-width="1.45"/>
<circle cx="539.7" cy="592.2" r="4.65" fill="#8e4aab" stroke="#000" stroke-width="1.45"/>
<circle cx="577.9" cy="592.4" r="4.65" fill="#8e4aab" stroke="#000" stroke-width="1.45"/>
<circle cx="634.8" cy="601.8" r="4.65" fill="#8e4aab" stroke="#000" stroke-width="1.45"/>
<circle cx="506.6" cy="580.4" r="3.1" fill="#000"/>
<text x="397.04" y="369.7" font-size="21.5" font-weight="bold" textLength="16.23" lengthAdjust="spacingAndGlyphs" fill="#000" >D</text>
<text x="460.58" y="385.8" font-size="15.3" font-weight="normal" textLength="184.5" lengthAdjust="spacingAndGlyphs" fill="#000" >Evolutionary Trajectories</text>
<text x="489.17" y="667.5" font-size="12.8" font-weight="normal" textLength="127.56" lengthAdjust="spacingAndGlyphs" fill="#000" >Flux per unit protein</text>
<text transform="rotate(-90)" x="-581.34" y="414.9" font-size="12.8" textLength="113.72" lengthAdjust="spacingAndGlyphs">Yield per unit light</text>
</g>
<defs><clipPath id="clipA"><rect x="87.5" y="39.9" width="259.9" height="259.9"/></clipPath></defs>
</svg>
</body></html>
